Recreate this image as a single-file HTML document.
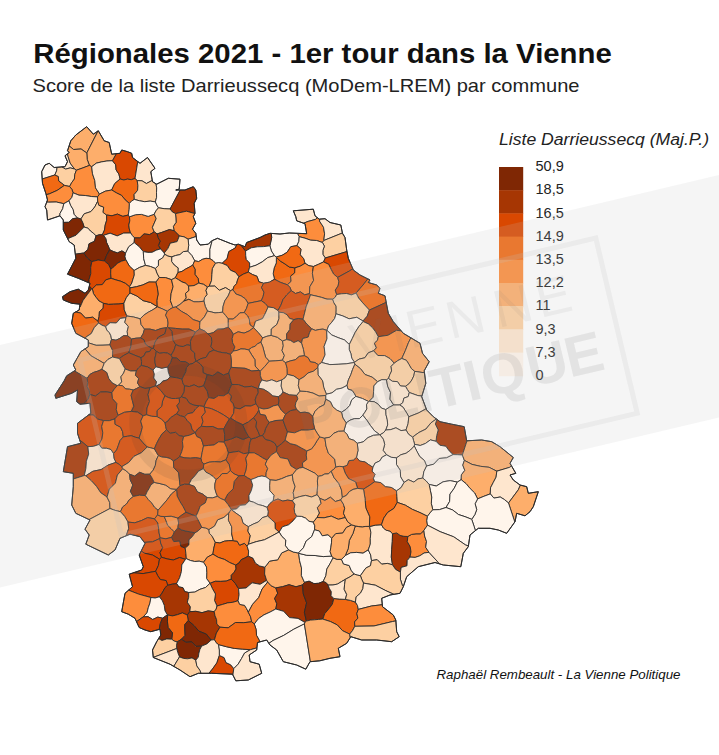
<!DOCTYPE html>
<html><head><meta charset="utf-8"><style>
html,body{margin:0;padding:0;background:#fff;}
body{width:719px;height:755px;overflow:hidden;position:relative;font-family:"Liberation Sans",sans-serif;}
svg{position:absolute;left:0;top:0;}
</style></head><body>
<svg width="719" height="755" viewBox="0 0 719 755">
<g font-family="Liberation Sans, sans-serif">
<text x="33.3" y="63.2" font-size="27" font-weight="bold" fill="#111" textLength="578.5" lengthAdjust="spacingAndGlyphs">Régionales 2021 - 1er tour dans la Vienne</text>
<text x="32.5" y="92" font-size="18.5" fill="#222" textLength="547" lengthAdjust="spacingAndGlyphs">Score de la liste Darrieussecq (MoDem-LREM) par commune</text>
<text x="499" y="145.2" font-size="16" font-style="italic" fill="#222" textLength="210" lengthAdjust="spacingAndGlyphs">Liste Darrieussecq (Maj.P.)</text>
<g font-size="14.5" fill="#222"><text x="535.5" y="171.2">50,9</text><text x="535.5" y="194.4">18,5</text><text x="535.5" y="217.6">16,5</text><text x="535.5" y="240.8">14,9</text><text x="535.5" y="264.0">13,5</text><text x="535.5" y="287.2">12,2</text><text x="535.5" y="310.4">11</text><text x="535.5" y="333.6">9,3</text><text x="535.5" y="356.8">7,3</text><text x="535.5" y="380.0">0</text></g>
<text x="436.5" y="679" font-size="13.2" font-style="italic" fill="#111" textLength="244" lengthAdjust="spacingAndGlyphs">Raphaël Rembeault - La Vienne Politique</text>
</g>
<rect x="499" y="167.0" width="24.2" height="23.6" fill="#7f2704"/><rect x="499" y="190.2" width="24.2" height="23.6" fill="#a63603"/><rect x="499" y="213.4" width="24.2" height="23.6" fill="#d94801"/><rect x="499" y="236.6" width="24.2" height="23.6" fill="#f16913"/><rect x="499" y="259.8" width="24.2" height="23.6" fill="#fd8d3c"/><rect x="499" y="283.0" width="24.2" height="23.6" fill="#fdae6b"/><rect x="499" y="306.2" width="24.2" height="23.6" fill="#fdd0a2"/><rect x="499" y="329.4" width="24.2" height="23.6" fill="#fee6ce"/><rect x="499" y="352.6" width="24.2" height="23.6" fill="#fff5eb"/>
<g stroke="#2a2a2a" stroke-width="0.9" stroke-linejoin="round">
<path d="M73.6,149.5L81.1,149.0L86.8,153.0L98.1,130.9L93.3,134.2L86.7,126.7L75.8,135.0L70.8,140.8L69.1,145.9Z" fill="#fdae6b"/>
<path d="M116.4,153.7L111.7,154.2L109.2,142.5L104.2,140.8L98.3,130.8L98.1,130.9L86.8,153.0L87.2,159.4L89.4,165.4L91.7,166.7L96.3,163.2L101.5,161.9L106.9,161.0L112.5,160.7Z" fill="#fdae6b"/>
<path d="M65.6,169.1L70.2,167.9L74.5,169.0L70.2,163.1L68.0,156.2L67.5,153.8L65.0,155.8L67.5,161.7L65.0,166.7L61.8,166.9Z" fill="#fee6ce"/>
<path d="M87.2,159.4L86.8,153.0L81.1,149.0L73.6,149.5L69.1,145.9L67.5,150.8L69.2,152.5L67.5,153.8L68.0,156.2L70.2,163.1L74.5,169.0L76.4,170.2L82.9,167.9L89.4,165.4Z" fill="#fdae6b"/>
<path d="M54.8,175.0L56.6,170.9L57.1,167.3L54.2,167.5L49.2,163.3L45.0,165.0L41.7,171.7L42.2,179.0Z" fill="#fff5eb"/>
<path d="M74.5,169.0L70.2,167.9L65.6,169.1L61.8,166.9L57.1,167.3L56.6,170.9L54.8,175.0L58.3,176.6L58.7,181.0L61.6,183.2L64.4,185.4L69.6,186.5L71.7,182.6L74.4,179.0L74.8,174.4L76.4,170.2Z" fill="#fdd0a2"/>
<path d="M49.3,193.9L57.2,190.4L64.4,185.4L61.6,183.2L58.7,181.0L58.3,176.6L54.8,175.0L42.2,179.0L42.5,183.3L45.8,193.3L46.2,194.7Z" fill="#f16913"/>
<path d="M99.5,194.1L95.5,187.8L94.8,180.6L92.5,173.8L91.7,166.7L89.4,165.4L82.9,167.9L76.4,170.2L74.8,174.4L74.4,179.0L71.7,182.6L69.6,186.5L71.9,189.4L73.1,192.8L79.0,195.2L85.2,195.5L91.3,196.5L97.5,196.9Z" fill="#fd8d3c"/>
<path d="M105.3,191.2L111.7,190.0L114.7,183.6L120.1,179.0L118.9,174.1L116.1,169.9L115.7,164.8L112.5,160.7L106.9,161.0L101.5,161.9L96.3,163.2L91.7,166.7L92.5,173.8L94.8,180.6L95.5,187.8L99.5,194.1Z" fill="#fee6ce"/>
<path d="M137.8,161.6L132.5,157.5L131.7,153.3L127.5,151.7L121.7,150.0L120.0,153.3L116.4,153.7L112.5,160.7L115.7,164.8L116.1,169.9L118.9,174.1L120.1,179.0L123.8,180.0L127.5,179.1L131.3,179.7L135.0,178.5Z" fill="#d94801"/>
<path d="M135.0,178.5L137.2,180.6L142.0,180.8L146.4,183.5L151.5,180.8L152.4,181.3L150.8,171.7L155.0,168.3L147.5,157.5L140.0,163.3L137.8,161.6Z" fill="#fee6ce"/>
<path d="M131.5,201.1L134.3,199.4L134.1,194.6L137.6,190.3L137.9,185.5L137.2,180.6L135.0,178.5L131.3,179.7L127.5,179.1L123.8,180.0L120.1,179.0L114.7,183.6L111.7,190.0L116.5,192.9L121.6,195.4L125.2,199.9L129.4,203.5Z" fill="#f16913"/>
<path d="M151.5,180.8L146.4,183.5L142.0,180.8L137.2,180.6L137.9,185.5L137.6,190.3L134.1,194.6L134.3,199.4L139.5,200.8L144.7,201.7L150.2,201.1L155.4,201.9L156.6,197.3L156.5,192.6L156.7,187.9L156.0,183.8L152.5,181.7L152.4,181.3Z" fill="#fdd0a2"/>
<path d="M71.9,197.3L73.1,192.8L71.9,189.4L69.6,186.5L64.4,185.4L57.2,190.4L49.3,193.9L46.2,194.7L47.5,200.0L46.7,202.1L48.4,202.2L56.2,202.0L63.8,203.7L69.0,200.8Z" fill="#fd8d3c"/>
<path d="M60.0,213.4L62.7,208.7L63.8,203.7L56.2,202.0L48.4,202.2L46.7,202.1L45.0,206.7L46.7,210.0L47.5,220.0L59.9,215.8Z" fill="#fee6ce"/>
<path d="M63.8,222.4L68.8,222.3L72.7,218.7L77.6,218.0L74.2,214.3L73.2,209.5L70.7,205.4L69.0,200.8L63.8,203.7L62.7,208.7L60.0,213.4L59.9,215.8L60.0,215.8L63.3,220.0L63.3,222.5Z" fill="#fff5eb"/>
<path d="M84.2,213.8L90.9,211.6L94.8,206.9L97.7,201.2L97.5,196.9L91.3,196.5L85.2,195.5L79.0,195.2L73.1,192.8L71.9,197.3L69.0,200.8L70.7,205.4L73.2,209.5L74.2,214.3L77.6,218.0L80.9,219.0Z" fill="#fee6ce"/>
<path d="M82.8,222.9L84.1,227.1L87.9,228.1L90.4,231.0L93.4,233.2L96.0,235.9L99.1,234.8L102.4,234.7L104.5,230.0L105.2,225.0L106.7,220.2L106.6,215.0L103.1,212.4L103.7,207.1L98.9,205.3L97.7,201.2L94.8,206.9L90.9,211.6L84.2,213.8L80.9,219.0Z" fill="#fdd0a2"/>
<path d="M98.9,205.3L103.7,207.1L103.1,212.4L106.6,215.0L112.0,215.8L117.4,214.1L122.9,216.4L128.3,215.0L129.2,209.3L129.4,203.5L125.2,199.9L121.6,195.4L116.5,192.9L111.7,190.0L105.3,191.2L99.5,194.1L97.5,196.9L97.7,201.2Z" fill="#fd8d3c"/>
<path d="M106.7,220.2L105.2,225.0L104.5,230.0L102.4,234.7L103.5,235.4L110.1,233.2L117.2,235.9L123.7,233.1L130.6,233.0L129.3,229.0L128.8,225.0L129.8,220.8L129.5,216.8L128.3,215.0L122.9,216.4L117.4,214.1L112.0,215.8L106.6,215.0Z" fill="#d94801"/>
<path d="M129.8,220.8L128.8,225.0L129.3,229.0L130.6,233.0L132.4,235.6L134.5,237.9L139.9,237.9L144.0,233.9L149.6,234.6L154.2,231.9L152.4,227.4L154.3,223.0L156.2,218.6L154.2,214.2L148.2,216.4L141.7,214.4L135.5,214.7L129.5,216.8Z" fill="#fd8d3c"/>
<path d="M129.2,209.3L128.3,215.0L129.5,216.8L135.5,214.7L141.7,214.4L148.2,216.4L154.2,214.2L156.0,210.8L158.5,207.8L156.8,205.0L155.4,201.9L150.2,201.1L144.7,201.7L139.5,200.8L134.3,199.4L131.5,201.1L129.4,203.5Z" fill="#fff5eb"/>
<path d="M77.6,218.0L72.7,218.7L68.8,222.3L63.8,222.4L63.3,222.5L63.3,230.0L67.7,238.7L76.0,235.2L84.1,227.1L82.8,222.9L80.9,219.0Z" fill="#7f2704"/>
<path d="M156.7,187.9L156.5,192.6L156.6,197.3L155.4,201.9L156.8,205.0L158.5,207.8L164.2,208.7L170.1,209.0L179.2,192.0L180.2,190.0L175.8,190.0L179.2,189.2L180.0,179.2L168.3,178.3L160.0,182.5L156.7,184.2L156.0,183.8Z" fill="#fff5eb"/>
<path d="M179.2,192.0L170.1,209.0L172.3,211.9L175.5,213.6L186.5,211.2L194.9,213.6L195.0,213.3L194.2,203.3L196.7,198.3L195.8,190.0L193.3,186.7L185.0,190.0L180.2,190.0Z" fill="#a63603"/>
<path d="M195.6,236.7L196.1,235.8L195.8,233.3L192.5,229.2L195.8,223.3L193.3,216.7L194.9,213.6L186.5,211.2L175.5,213.6L175.9,218.0L176.1,222.3L173.4,226.3L174.0,230.7L176.8,233.2L179.3,236.0L184.0,236.8L188.1,239.2Z" fill="#fd8d3c"/>
<path d="M156.2,218.6L154.3,223.0L152.4,227.4L154.2,231.9L157.1,233.9L161.2,232.6L165.3,231.1L169.4,229.6L174.0,230.7L173.4,226.3L176.1,222.3L175.9,218.0L175.5,213.6L172.3,211.9L170.1,209.0L164.2,208.7L158.5,207.8L156.0,210.8L154.2,214.2Z" fill="#fdd0a2"/>
<path d="M308.2,221.4L315.5,219.4L317.3,217.7L315.0,215.8L313.3,209.2L293.3,210.8L295.8,216.7L296.7,220.8L303.6,223.2Z" fill="#fee6ce"/>
<path d="M299.2,236.7L305.0,238.2L310.6,240.2L316.7,240.5L322.4,242.5L323.8,240.5L324.6,233.8L323.5,227.2L319.5,221.1L319.9,219.1L319.2,219.2L317.3,217.7L315.5,219.4L308.2,221.4L303.6,223.2L305.0,223.7L306.7,233.7L297.3,233.3Z" fill="#fd8d3c"/>
<path d="M319.5,221.1L323.5,227.2L324.6,233.8L323.8,240.5L342.4,233.0L340.8,225.0L330.0,222.5L325.0,218.7L319.9,219.1Z" fill="#fee6ce"/>
<path d="M323.8,240.5L322.4,242.5L324.4,246.1L322.9,250.4L322.9,254.4L325.3,258.0L344.2,252.4L347.0,251.5L346.7,250.0L345.0,237.5L342.5,233.3L342.4,233.0Z" fill="#fdd0a2"/>
<path d="M282.1,255.3L287.1,252.3L290.8,246.7L296.9,245.6L298.9,241.3L299.2,236.7L297.3,233.3L289.2,233.0L280.0,234.0L271.2,233.4L271.7,237.5L269.9,245.8L271.4,251.0L274.4,255.7L276.3,257.0Z" fill="#fff5eb"/>
<path d="M318.5,264.3L323.6,261.9L325.3,258.0L322.9,254.4L322.9,250.4L324.4,246.1L322.4,242.5L316.7,240.5L310.6,240.2L305.0,238.2L299.2,236.7L298.9,241.3L296.9,245.6L301.0,249.1L300.2,254.8L303.6,258.6L305.0,263.3L308.9,265.7L313.4,266.5Z" fill="#fee6ce"/>
<path d="M328.7,264.3L331.1,269.3L333.6,274.1L337.7,277.4L349.6,270.9L352.8,268.7L348.3,258.3L347.0,251.5L344.2,252.4L325.3,258.0L323.6,261.9Z" fill="#d94801"/>
<path d="M291.1,281.4L290.6,276.1L294.7,272.9L294.9,267.9L289.3,267.0L284.9,263.9L280.4,261.1L276.4,257.4L276.3,262.9L274.1,268.2L273.2,273.7L274.5,279.3L280.8,282.5L287.4,284.8Z" fill="#f16913"/>
<path d="M300.2,266.2L305.0,263.3L303.6,258.6L300.2,254.8L301.0,249.1L296.9,245.6L290.8,246.7L287.1,252.3L282.1,255.3L276.3,257.0L276.4,257.4L280.4,261.1L284.9,263.9L289.3,267.0L294.9,267.9Z" fill="#f16913"/>
<path d="M308.9,265.7L305.0,263.3L300.2,266.2L294.9,267.9L294.7,272.9L290.6,276.1L291.1,281.4L287.4,284.8L289.9,287.3L291.2,290.6L295.5,293.5L300.4,291.9L304.6,294.8L309.5,293.7L309.8,286.8L313.6,280.4L312.4,273.3L313.4,266.5Z" fill="#fd8d3c"/>
<path d="M312.4,273.3L313.6,280.4L309.8,286.8L309.5,293.7L310.5,294.8L316.0,296.0L321.6,297.4L327.0,299.2L332.7,299.2L335.2,297.3L336.7,294.5L335.3,290.1L338.1,286.0L338.9,281.7L337.7,277.4L333.6,274.1L331.1,269.3L328.7,264.3L323.6,261.9L318.5,264.3L313.4,266.5Z" fill="#fd8d3c"/>
<path d="M338.9,281.7L338.1,286.0L335.3,290.1L336.7,294.5L341.5,293.8L346.4,293.5L351.4,294.9L356.1,293.1L364.4,283.4L367.8,278.9L360.0,275.0L353.3,270.0L352.8,268.7L349.6,270.9L337.7,277.4Z" fill="#d94801"/>
<path d="M364.4,283.4L356.1,293.1L358.6,298.0L362.1,302.1L365.7,306.1L369.4,310.1L386.2,302.4L385.0,295.8L378.3,293.3L380.0,288.3L376.7,285.0L368.3,282.5L370.0,280.0L367.8,278.9Z" fill="#f16913"/>
<path d="M188.7,245.3L187.8,251.2L191.9,255.6L194.7,260.8L198.7,261.6L202.3,259.4L206.0,258.3L209.9,258.7L209.9,249.4L212.2,240.6L211.7,240.8L208.3,244.2L200.0,245.0L196.7,240.0L196.1,235.8L195.6,236.7L188.1,239.2Z" fill="#fff5eb"/>
<path d="M167.8,248.6L170.3,243.2L177.1,241.6L179.3,236.0L176.8,233.2L174.0,230.7L169.4,229.6L165.3,231.1L161.2,232.6L157.1,233.9L158.0,237.6L160.1,241.1L158.4,245.5L160.5,248.9L164.2,253.0Z" fill="#a63603"/>
<path d="M164.6,254.2L167.9,256.1L171.7,256.9L175.7,255.5L180.0,254.6L183.4,251.6L187.8,251.2L188.7,245.3L188.1,239.2L184.0,236.8L179.3,236.0L177.1,241.6L170.3,243.2L167.8,248.6L164.2,253.0Z" fill="#fdd0a2"/>
<path d="M209.9,249.4L209.9,258.7L213.0,260.6L215.5,263.3L218.8,262.6L222.1,263.3L227.1,258.7L228.8,251.6L235.2,248.0L236.9,244.5L235.0,245.0L230.0,243.3L217.5,238.3L212.2,240.6Z" fill="#fff5eb"/>
<path d="M249.6,267.3L249.7,263.0L246.3,259.5L245.7,255.3L245.6,251.0L241.9,246.4L241.0,245.2L238.3,244.2L236.9,244.5L235.2,248.0L228.8,251.6L227.1,258.7L222.1,263.3L227.2,265.5L230.4,270.2L235.5,272.4L238.9,276.8L243.4,274.1L248.3,272.1Z" fill="#d94801"/>
<path d="M241.9,246.4L245.6,251.0L251.3,247.8L257.4,246.8L263.7,246.6L269.9,245.8L271.7,237.5L271.2,233.4L270.0,233.3L265.0,235.0L260.0,237.5L246.7,242.5L245.0,246.7L241.0,245.2Z" fill="#a63603"/>
<path d="M256.1,265.2L262.2,261.9L267.7,257.6L274.4,255.7L271.4,251.0L269.9,245.8L263.7,246.6L257.4,246.8L251.3,247.8L245.6,251.0L245.7,255.3L246.3,259.5L249.7,263.0L249.6,267.3Z" fill="#fff5eb"/>
<path d="M273.2,273.7L274.1,268.2L276.3,262.9L276.4,257.4L276.3,257.0L274.4,255.7L267.7,257.6L262.2,261.9L256.1,265.2L249.6,267.3L248.3,272.1L252.4,274.5L257.0,276.3L258.9,281.8L263.6,283.3L269.4,282.2L274.5,279.3Z" fill="#fee6ce"/>
<path d="M171.6,261.5L174.2,265.0L178.1,267.9L177.9,272.5L182.0,271.4L185.5,269.1L189.2,267.2L192.8,265.1L194.7,260.8L191.9,255.6L187.8,251.2L183.4,251.6L180.0,254.6L175.7,255.5L171.7,256.9Z" fill="#fee6ce"/>
<path d="M177.9,272.5L178.1,267.9L174.2,265.0L171.6,261.5L171.7,256.9L167.9,256.1L164.6,254.2L162.5,257.9L158.4,260.3L158.4,265.4L155.3,268.5L156.9,273.2L159.2,277.5L165.5,277.6L171.5,279.7L175.3,277.8Z" fill="#fdd0a2"/>
<path d="M209.2,286.2L211.5,280.7L211.9,274.6L212.4,268.6L215.5,263.3L213.0,260.6L209.9,258.7L206.0,258.3L202.3,259.4L198.7,261.6L194.7,260.8L192.8,265.1L195.1,269.3L194.9,274.4L198.1,278.4L198.8,283.1L203.5,284.3L207.5,287.0Z" fill="#fd8d3c"/>
<path d="M178.7,279.8L181.9,281.9L185.7,283.2L188.5,286.1L194.0,285.6L198.8,283.1L198.1,278.4L194.9,274.4L195.1,269.3L192.8,265.1L189.2,267.2L185.5,269.1L182.0,271.4L177.9,272.5L175.3,277.8Z" fill="#f16913"/>
<path d="M214.8,286.1L219.4,290.3L225.5,287.6L230.4,290.7L232.9,289.7L234.1,286.3L236.6,283.6L237.5,280.1L238.9,276.8L235.5,272.4L230.4,270.2L227.2,265.5L222.1,263.3L218.8,262.6L215.5,263.3L212.4,268.6L211.9,274.6L211.5,280.7L209.2,286.2Z" fill="#fdd0a2"/>
<path d="M254.7,302.0L261.3,300.7L263.1,296.6L264.0,292.2L261.5,287.5L263.6,283.3L258.9,281.8L257.0,276.3L252.4,274.5L248.3,272.1L243.4,274.1L238.9,276.8L237.5,280.1L236.6,283.6L234.1,286.3L232.9,289.7L235.9,294.0L241.1,295.9L245.3,298.8L248.1,303.4Z" fill="#f16913"/>
<path d="M170.4,300.6L171.1,293.6L173.1,286.6L171.5,279.7L165.5,277.6L159.2,277.5L155.8,282.1L157.4,288.2L158.1,294.2L156.8,300.4L157.0,306.4L157.3,306.8L162.4,308.9L167.3,311.3L170.0,309.1L173.0,307.5Z" fill="#fd8d3c"/>
<path d="M175.8,307.0L180.0,304.4L183.8,301.2L186.3,297.9L185.5,293.4L189.0,290.4L188.5,286.1L185.7,283.2L181.9,281.9L178.7,279.8L175.3,277.8L171.5,279.7L173.1,286.6L171.1,293.6L170.4,300.6L173.0,307.5Z" fill="#fdae6b"/>
<path d="M204.6,297.6L207.2,294.5L206.0,290.4L207.5,287.0L203.5,284.3L198.8,283.1L194.0,285.6L188.5,286.1L189.0,290.4L185.5,293.4L186.3,297.9L183.8,301.2L188.8,299.3L193.9,301.8L198.9,301.8L204.0,301.2Z" fill="#fdae6b"/>
<path d="M223.1,306.3L224.8,300.8L228.1,296.0L230.4,290.7L225.5,287.6L219.4,290.3L214.8,286.1L209.2,286.2L207.5,287.0L206.0,290.4L207.2,294.5L204.6,297.6L204.0,301.2L205.2,306.3L207.5,311.1L211.2,311.9L215.0,312.9L218.8,312.6L222.6,312.2Z" fill="#fdd0a2"/>
<path d="M205.2,306.3L204.0,301.2L198.9,301.8L193.9,301.8L188.8,299.3L183.8,301.2L180.0,304.4L175.8,307.0L181.5,311.4L187.7,314.8L193.1,319.6L200.0,321.8L204.4,316.9L207.5,311.1Z" fill="#fd8d3c"/>
<path d="M233.0,319.1L236.5,316.4L239.8,312.9L244.2,312.6L246.6,308.2L248.1,303.4L245.3,298.8L241.1,295.9L235.9,294.0L232.9,289.7L230.4,290.7L228.1,296.0L224.8,300.8L223.1,306.3L222.6,312.2L225.6,315.5L228.3,319.0Z" fill="#fd8d3c"/>
<path d="M273.4,307.7L278.0,310.5L280.9,305.2L283.0,299.5L286.8,294.8L291.2,290.6L289.9,287.3L287.4,284.8L280.8,282.5L274.5,279.3L269.4,282.2L263.6,283.3L261.5,287.5L264.0,292.2L263.1,296.6L261.3,300.7L265.1,303.4L268.1,307.0Z" fill="#d94801"/>
<path d="M247.6,315.8L249.4,319.8L249.9,324.7L253.6,327.6L255.5,321.2L262.6,318.6L265.5,312.9L268.1,307.0L265.1,303.4L261.3,300.7L254.7,302.0L248.1,303.4L246.6,308.2L244.2,312.6Z" fill="#f16913"/>
<path d="M76.0,235.2L67.7,238.7L69.2,241.7L74.2,245.0L75.3,254.2L83.8,253.0L87.9,249.5L89.0,243.8L94.5,241.3L96.0,235.9L93.4,233.2L90.4,231.0L87.9,228.1L84.1,227.1Z" fill="#fee6ce"/>
<path d="M105.8,238.7L106.6,242.6L108.3,246.1L109.7,249.8L113.5,251.6L117.4,252.9L121.9,250.9L125.6,253.1L128.7,246.8L134.2,242.6L134.5,237.9L132.4,235.6L130.6,233.0L123.7,233.1L117.2,235.9L110.1,233.2L103.5,235.4Z" fill="#fee6ce"/>
<path d="M134.2,242.6L139.2,246.7L143.3,251.6L147.8,252.4L152.2,252.3L156.3,250.2L160.5,248.9L158.4,245.5L160.1,241.1L158.0,237.6L157.1,233.9L154.2,231.9L149.6,234.6L144.0,233.9L139.9,237.9L134.5,237.9Z" fill="#a63603"/>
<path d="M89.1,279.4L90.8,273.6L90.7,267.5L91.9,261.6L87.2,257.9L83.8,253.0L75.3,254.2L75.8,258.3L67.5,274.2L78.3,278.3L88.9,282.8Z" fill="#7f2704"/>
<path d="M94.5,241.3L89.0,243.8L87.9,249.5L83.8,253.0L87.2,257.9L91.9,261.6L98.1,260.0L104.4,261.0L106.7,255.2L109.7,249.8L108.3,246.1L106.6,242.6L105.8,238.7L103.5,235.4L102.4,234.7L99.1,234.8L96.0,235.9Z" fill="#7f2704"/>
<path d="M108.5,264.4L110.8,269.2L114.3,266.5L117.5,263.2L121.5,261.2L125.9,259.9L125.0,256.6L125.6,253.1L121.9,250.9L117.4,252.9L113.5,251.6L109.7,249.8L106.7,255.2L104.4,261.0Z" fill="#7f2704"/>
<path d="M125.0,256.6L125.9,259.9L129.2,265.9L134.1,270.5L139.6,267.4L145.5,265.4L143.7,258.6L143.3,251.6L139.2,246.7L134.2,242.6L128.7,246.8L125.6,253.1Z" fill="#fff5eb"/>
<path d="M160.5,248.9L156.3,250.2L152.2,252.3L147.8,252.4L143.3,251.6L143.7,258.6L145.5,265.4L150.5,266.5L155.3,268.5L158.4,265.4L158.4,260.3L162.5,257.9L164.6,254.2L164.2,253.0Z" fill="#fff5eb"/>
<path d="M90.7,267.5L90.8,273.6L89.1,279.4L88.9,282.8L90.0,283.3L89.3,286.1L91.7,288.7L92.3,288.9L96.3,285.0L102.3,284.6L105.8,279.9L111.1,278.3L110.7,273.8L110.8,269.2L108.5,264.4L104.4,261.0L98.1,260.0L91.9,261.6Z" fill="#d94801"/>
<path d="M115.9,279.9L120.9,281.3L125.5,283.4L129.5,286.8L131.8,283.0L133.0,279.0L134.3,275.0L134.1,270.5L129.2,265.9L125.9,259.9L121.5,261.2L117.5,263.2L114.3,266.5L110.8,269.2L110.7,273.8L111.1,278.3Z" fill="#f16913"/>
<path d="M150.5,266.5L145.5,265.4L139.6,267.4L134.1,270.5L134.3,275.0L133.0,279.0L131.8,283.0L129.5,286.8L130.0,287.9L136.5,286.7L142.9,284.9L149.0,282.0L155.8,282.1L159.2,277.5L156.9,273.2L155.3,268.5Z" fill="#fdd0a2"/>
<path d="M126.3,297.7L130.0,292.9L130.0,287.9L129.5,286.8L125.5,283.4L120.9,281.3L115.9,279.9L111.1,278.3L105.8,279.9L102.3,284.6L96.3,285.0L92.3,288.9L93.5,293.7L96.1,297.4L99.0,301.0L103.4,303.3L108.5,304.4L113.6,304.2L118.8,304.0L123.9,303.3Z" fill="#f16913"/>
<path d="M89.3,286.1L88.3,290.0L85.0,293.3L78.3,289.2L70.0,291.7L62.5,296.7L63.3,300.0L71.7,303.3L80.0,304.2L79.5,307.6L80.1,307.1L83.1,300.3L87.4,294.5L91.7,288.7Z" fill="#7f2704"/>
<path d="M91.7,288.7L87.4,294.5L83.1,300.3L80.1,307.1L79.5,307.6L79.2,310.0L75.6,312.0L80.7,313.0L85.5,318.1L92.7,317.2L97.9,321.2L99.1,316.6L99.4,311.9L103.2,308.1L103.4,303.3L99.0,301.0L96.1,297.4L93.5,293.7L92.3,288.9Z" fill="#fdae6b"/>
<path d="M124.3,309.9L123.9,303.3L118.8,304.0L113.6,304.2L108.5,304.4L103.4,303.3L103.2,308.1L99.4,311.9L99.1,316.6L97.9,321.2L98.6,323.0L102.0,325.2L105.7,326.6L110.1,322.7L116.3,323.0L120.3,318.4L126.0,317.6L126.9,316.0Z" fill="#d94801"/>
<path d="M150.5,302.5L143.0,300.6L136.9,296.0L130.0,292.9L126.3,297.7L123.9,303.3L124.3,309.9L126.9,316.0L133.6,317.0L140.2,318.8L143.9,315.1L148.3,312.2L153.0,309.7L157.3,306.8L157.0,306.4Z" fill="#fdd0a2"/>
<path d="M156.8,300.4L158.1,294.2L157.4,288.2L155.8,282.1L149.0,282.0L142.9,284.9L136.5,286.7L130.0,287.9L130.0,292.9L136.9,296.0L143.0,300.6L150.5,302.5L157.0,306.4Z" fill="#f16913"/>
<path d="M85.7,337.3L91.3,333.5L94.2,327.7L98.6,323.0L97.9,321.2L92.7,317.2L85.5,318.1L80.7,313.0L75.6,312.0L73.3,313.3L71.7,323.3L75.8,333.3L85.2,338.3Z" fill="#f16913"/>
<path d="M89.5,343.2L96.1,345.3L103.0,345.2L109.8,344.9L111.5,339.4L110.9,335.8L109.4,332.7L106.8,330.0L105.7,326.6L102.0,325.2L98.6,323.0L94.2,327.7L91.3,333.5L85.7,337.3L85.2,338.3L88.3,340.0L88.3,343.2Z" fill="#fdd0a2"/>
<path d="M127.2,331.3L128.4,326.6L124.8,322.3L126.0,317.6L120.3,318.4L116.3,323.0L110.1,322.7L105.7,326.6L106.8,330.0L109.4,332.7L110.9,335.8L111.5,339.4L116.0,340.2L119.8,338.4L123.5,335.7L127.7,335.8Z" fill="#fee6ce"/>
<path d="M143.1,333.8L144.5,329.1L141.1,324.5L140.2,318.8L133.6,317.0L126.9,316.0L126.0,317.6L124.8,322.3L128.4,326.6L127.2,331.3L127.7,335.8L131.5,339.0L136.0,338.2L140.6,337.9Z" fill="#fdae6b"/>
<path d="M167.6,326.9L168.1,323.0L167.5,319.1L165.6,315.2L167.3,311.3L162.4,308.9L157.3,306.8L153.0,309.7L148.3,312.2L143.9,315.1L140.2,318.8L141.1,324.5L144.5,329.1L150.0,329.1L155.6,330.5L161.0,328.5L166.5,327.7Z" fill="#fd8d3c"/>
<path d="M155.0,342.2L158.4,337.1L164.8,333.9L166.5,327.7L161.0,328.5L155.6,330.5L150.0,329.1L144.5,329.1L143.1,333.8L140.6,337.9L144.0,339.9L145.3,344.1L148.3,346.4L151.7,348.4L153.4,348.4Z" fill="#a63603"/>
<path d="M123.9,355.3L128.8,352.7L131.0,346.0L131.5,339.0L127.7,335.8L123.5,335.7L119.8,338.4L116.0,340.2L111.5,339.4L109.8,344.9L112.6,350.6L112.5,357.0L116.0,357.8L119.4,358.5Z" fill="#a63603"/>
<path d="M253.6,327.7L258.3,332.7L262.7,337.9L266.9,336.3L271.2,335.4L271.3,329.0L276.9,324.4L279.0,318.6L278.9,312.2L278.0,310.5L273.4,307.7L268.1,307.0L265.5,312.9L262.6,318.6L255.5,321.2L253.6,327.6Z" fill="#fdd0a2"/>
<path d="M193.1,319.6L187.7,314.8L181.5,311.4L175.8,307.0L173.0,307.5L170.0,309.1L167.3,311.3L165.6,315.2L167.5,319.1L168.1,323.0L167.6,326.9L168.8,327.9L175.5,328.4L182.2,329.1L189.1,329.1L195.5,332.0L199.7,328.9L199.7,325.3L200.0,321.8Z" fill="#f16913"/>
<path d="M228.3,323.1L228.3,319.0L225.6,315.5L222.6,312.2L218.8,312.6L215.0,312.9L211.2,311.9L207.5,311.1L204.4,316.9L200.0,321.8L199.7,325.3L199.7,328.9L204.3,330.8L208.0,334.0L213.2,332.7L217.7,329.2L223.2,328.9L228.3,327.2Z" fill="#fdae6b"/>
<path d="M231.1,330.6L233.3,334.4L238.1,331.8L244.1,333.1L249.1,331.0L253.6,327.7L253.6,327.6L249.9,324.7L249.4,319.8L247.6,315.8L244.2,312.6L239.8,312.9L236.5,316.4L233.0,319.1L228.3,319.0L228.3,323.1L228.3,327.2Z" fill="#fd8d3c"/>
<path d="M156.3,351.3L159.7,353.3L163.9,352.6L167.7,353.2L171.1,355.3L174.0,350.2L175.8,344.6L173.3,340.7L172.5,336.2L172.1,331.4L168.8,327.9L167.6,326.9L166.5,327.7L164.8,333.9L158.4,337.1L155.0,342.2L153.4,348.4Z" fill="#a63603"/>
<path d="M190.4,341.6L191.7,338.3L193.9,335.2L195.5,332.0L189.1,329.1L182.2,329.1L175.5,328.4L168.8,327.9L172.1,331.4L172.5,336.2L173.3,340.7L175.8,344.6L179.5,346.2L183.2,346.5L187.0,344.8L190.7,345.5Z" fill="#a63603"/>
<path d="M194.8,357.2L194.7,352.9L191.0,349.8L190.7,345.5L187.0,344.8L183.2,346.5L179.5,346.2L175.8,344.6L174.0,350.2L171.1,355.3L172.2,357.6L177.0,358.2L180.6,361.5L185.5,361.7L189.4,364.4L193.0,363.4L196.0,361.2Z" fill="#a63603"/>
<path d="M204.3,330.8L199.7,328.9L195.5,332.0L193.9,335.2L191.7,338.3L190.4,341.6L190.7,345.5L191.0,349.8L194.7,352.9L194.8,357.2L196.0,361.2L196.3,361.3L200.9,358.7L206.2,357.3L209.1,352.2L213.9,350.1L211.0,346.6L211.9,341.7L211.4,337.3L208.0,334.0Z" fill="#a63603"/>
<path d="M234.9,346.9L232.6,342.7L232.2,338.6L233.3,334.4L231.1,330.6L228.3,327.2L223.2,328.9L217.7,329.2L213.2,332.7L208.0,334.0L211.4,337.3L211.9,341.7L211.0,346.6L213.9,350.1L217.9,351.6L222.1,352.6L226.4,353.0L230.5,354.5L233.3,351.0Z" fill="#a63603"/>
<path d="M237.2,350.4L240.9,348.9L244.8,349.1L248.7,349.9L251.5,347.6L255.0,346.3L257.6,343.8L260.9,342.2L262.7,337.9L258.3,332.7L253.6,327.7L249.1,331.0L244.1,333.1L238.1,331.8L233.3,334.4L232.2,338.6L232.6,342.7L234.9,346.9L233.3,351.0Z" fill="#f16913"/>
<path d="M284.4,355.4L282.0,350.6L283.3,345.8L282.5,341.0L277.3,337.2L271.2,335.4L266.9,336.3L262.7,337.9L260.9,342.2L262.9,347.0L264.2,352.1L265.6,357.2L269.3,361.2L275.9,360.8L282.5,360.2Z" fill="#fdae6b"/>
<path d="M265.6,357.2L264.2,352.1L262.9,347.0L260.9,342.2L257.6,343.8L255.0,346.3L251.5,347.6L248.7,349.9L251.7,354.9L254.9,359.7L255.1,366.0L259.0,370.4L260.3,371.2L264.9,366.3L269.3,361.2Z" fill="#fd8d3c"/>
<path d="M230.5,354.5L231.4,360.9L231.1,367.3L238.1,367.9L245.1,368.3L251.8,371.0L259.0,370.4L255.1,366.0L254.9,359.7L251.7,354.9L248.7,349.9L244.8,349.1L240.9,348.9L237.2,350.4L233.3,351.0Z" fill="#fd8d3c"/>
<path d="M229.7,370.1L231.1,367.3L231.4,360.9L230.5,354.5L226.4,353.0L222.1,352.6L217.9,351.6L213.9,350.1L209.1,352.2L206.2,357.3L200.9,358.7L196.3,361.3L200.1,363.8L202.8,367.2L203.0,372.6L207.3,374.7L212.8,375.8L217.9,372.0L223.5,375.1L228.8,373.0Z" fill="#a63603"/>
<path d="M176.2,377.7L182.1,379.1L183.9,375.4L185.8,371.8L186.5,367.6L189.4,364.4L185.5,361.7L180.6,361.5L177.0,358.2L172.2,357.6L170.5,362.6L167.6,367.0L168.3,372.1L170.1,376.9Z" fill="#7f2704"/>
<path d="M168.3,372.1L167.6,367.0L161.7,368.2L155.9,366.6L152.9,370.1L154.1,374.0L153.6,378.1L156.4,381.8L155.3,386.0L156.1,386.2L159.9,384.2L162.8,381.1L167.1,380.0L170.1,376.9Z" fill="#fff5eb"/>
<path d="M181.4,396.9L184.2,391.8L184.5,385.8L182.7,382.7L182.1,379.1L176.2,377.7L170.1,376.9L167.1,380.0L162.8,381.1L159.9,384.2L156.1,386.2L160.9,390.6L164.8,395.8L168.2,397.5L171.8,398.5L175.6,398.5L179.3,398.2Z" fill="#a63603"/>
<path d="M203.0,372.6L202.8,367.2L200.1,363.8L196.3,361.3L196.0,361.2L193.0,363.4L189.4,364.4L186.5,367.6L185.8,371.8L183.9,375.4L182.1,379.1L182.7,382.7L184.5,385.8L189.3,386.6L194.1,384.8L198.8,387.2L203.6,385.8L205.6,380.3L207.3,374.7Z" fill="#a63603"/>
<path d="M229.8,388.5L231.8,384.5L230.3,378.8L228.8,373.0L223.5,375.1L217.9,372.0L212.8,375.8L207.3,374.7L205.6,380.3L203.6,385.8L207.2,391.2L208.5,397.6L214.0,398.5L218.5,395.6L223.8,395.8L228.4,392.8Z" fill="#7f2704"/>
<path d="M260.4,375.7L260.3,371.2L259.0,370.4L251.8,371.0L245.1,368.3L238.1,367.9L231.1,367.3L229.7,370.1L228.8,373.0L230.3,378.8L231.8,384.5L238.5,384.6L244.8,387.0L251.6,386.3L257.9,388.8L258.5,388.2L259.6,383.9L261.9,380.0Z" fill="#a63603"/>
<path d="M285.1,377.8L287.3,374.4L287.2,368.4L285.6,362.6L282.5,360.2L275.9,360.8L269.3,361.2L264.9,366.3L260.3,371.2L260.4,375.7L261.9,380.0L266.8,381.3L271.8,379.8L276.7,381.8L281.7,380.0Z" fill="#fd8d3c"/>
<path d="M281.2,386.1L281.7,380.0L276.7,381.8L271.8,379.8L266.8,381.3L261.9,380.0L259.6,383.9L258.5,388.2L263.8,389.4L268.5,392.3L272.8,396.0L278.3,396.7L281.2,394.8L283.0,392.0Z" fill="#fee6ce"/>
<path d="M204.0,406.5L206.0,401.9L208.5,397.6L207.2,391.2L203.6,385.8L198.8,387.2L194.1,384.8L189.3,386.6L184.5,385.8L184.2,391.8L181.4,396.9L186.2,398.4L189.3,403.2L193.9,405.2L199.2,405.8Z" fill="#a63603"/>
<path d="M255.2,399.9L256.4,396.3L258.3,392.7L257.9,388.8L251.6,386.3L244.8,387.0L238.5,384.6L231.8,384.5L229.8,388.5L228.4,392.8L231.3,396.0L230.4,400.6L233.3,403.9L234.2,407.8L240.0,408.9L245.1,405.9L250.8,406.1L256.0,403.8Z" fill="#a63603"/>
<path d="M168.1,420.9L170.4,417.9L173.4,415.8L176.5,413.8L179.1,410.2L176.9,405.8L179.5,402.3L179.3,398.2L175.6,398.5L171.8,398.5L168.2,397.5L164.8,395.8L162.6,400.9L161.6,406.5L156.9,410.7L157.0,416.6L161.5,419.2L165.1,423.0Z" fill="#d94801"/>
<path d="M180.3,415.8L184.5,416.8L187.9,413.7L192.9,412.7L195.7,408.8L199.2,405.8L193.9,405.2L189.3,403.2L186.2,398.4L181.4,396.9L179.3,398.2L179.5,402.3L176.9,405.8L179.1,410.2L176.5,413.8Z" fill="#a63603"/>
<path d="M230.7,418.2L233.6,413.4L234.2,407.8L233.3,403.9L230.4,400.6L231.3,396.0L228.4,392.8L223.8,395.8L218.5,395.6L214.0,398.5L208.5,397.6L206.0,401.9L204.0,406.5L204.2,407.1L211.2,408.6L217.5,411.5L223.6,414.9L229.4,418.9Z" fill="#d94801"/>
<path d="M263.7,409.0L268.7,408.3L273.4,405.9L278.3,404.8L279.0,400.7L278.3,396.7L272.8,396.0L268.5,392.3L263.8,389.4L258.5,388.2L257.9,388.8L258.3,392.7L256.4,396.3L255.2,399.9L256.0,403.8L258.4,407.6Z" fill="#a63603"/>
<path d="M284.2,417.1L285.7,414.2L281.3,410.1L278.3,404.8L273.4,405.9L268.7,408.3L263.7,409.0L258.4,407.6L258.8,410.3L260.2,414.4L265.3,415.3L266.8,419.2L269.2,422.4L276.0,420.5L283.0,420.1Z" fill="#fd8d3c"/>
<path d="M258.4,407.6L256.0,403.8L250.8,406.1L245.1,405.9L240.0,408.9L234.2,407.8L233.6,413.4L230.7,418.2L236.5,421.8L242.8,424.8L248.6,421.9L253.6,417.6L256.5,414.2L258.8,410.3Z" fill="#d94801"/>
<path d="M298.4,318.5L303.0,319.3L304.6,313.1L306.1,306.9L308.4,300.8L310.5,294.8L309.5,293.7L304.6,294.8L300.4,291.9L295.5,293.5L291.2,290.6L286.8,294.8L283.0,299.5L280.9,305.2L278.0,310.5L278.9,312.2L283.3,312.7L287.0,314.7L289.7,318.5L293.9,319.6Z" fill="#d94801"/>
<path d="M315.3,330.4L319.2,329.5L323.0,329.1L326.7,330.4L326.9,330.3L328.6,325.8L331.8,322.2L334.7,318.4L336.0,313.8L336.2,309.9L336.1,306.1L333.9,302.8L332.7,299.2L327.0,299.2L321.6,297.4L316.0,296.0L310.5,294.8L308.4,300.8L306.1,306.9L304.6,313.1L303.0,319.3L307.0,324.4L311.7,328.8Z" fill="#fdae6b"/>
<path d="M333.9,302.8L336.1,306.1L336.2,309.9L336.0,313.8L342.7,315.9L349.1,318.8L356.8,317.3L363.0,321.0L367.2,316.2L369.4,310.1L365.7,306.1L362.1,302.1L358.6,298.0L356.1,293.1L351.4,294.9L346.4,293.5L341.5,293.8L336.7,294.5L335.2,297.3L332.7,299.2Z" fill="#fdd0a2"/>
<path d="M368.3,323.9L372.3,327.5L375.6,331.8L378.3,336.7L387.9,335.3L396.6,330.3L401.2,330.9L393.3,321.7L388.3,313.3L386.7,305.0L386.2,302.4L369.4,310.1L367.2,316.2L363.0,321.0L363.1,321.5Z" fill="#a63603"/>
<path d="M352.3,338.5L355.2,332.4L358.8,326.7L363.1,321.5L363.0,321.0L356.8,317.3L349.1,318.8L342.7,315.9L336.0,313.8L334.7,318.4L331.8,322.2L328.6,325.8L326.9,330.3L331.8,335.0L338.0,337.6L344.4,339.9L349.3,344.5Z" fill="#fff5eb"/>
<path d="M349.2,349.4L350.9,353.7L351.8,358.3L354.5,362.3L359.1,359.1L364.8,357.8L368.3,352.8L373.6,350.8L376.4,347.8L374.4,343.2L377.5,340.3L378.3,336.7L375.6,331.8L372.3,327.5L368.3,323.9L363.1,321.5L358.8,326.7L355.2,332.4L352.3,338.5L349.3,344.5Z" fill="#fdd0a2"/>
<path d="M377.8,355.5L384.7,355.6L390.0,358.6L394.2,363.2L397.8,360.6L401.8,358.5L405.3,350.7L408.4,342.8L410.9,337.8L403.3,333.3L401.2,330.9L396.6,330.3L387.9,335.3L378.3,336.7L377.5,340.3L374.4,343.2L376.4,347.8L373.6,350.8Z" fill="#fd8d3c"/>
<path d="M289.7,318.5L287.0,314.7L283.3,312.7L278.9,312.2L279.0,318.6L276.9,324.4L271.3,329.0L271.2,335.4L277.3,337.2L282.5,341.0L286.7,339.6L286.7,333.9L289.9,329.5L290.2,323.9L293.9,319.6Z" fill="#fdae6b"/>
<path d="M307.0,324.4L303.0,319.3L298.4,318.5L293.9,319.6L290.2,323.9L289.9,329.5L286.7,333.9L286.7,339.6L290.4,340.4L293.8,342.6L298.1,340.7L301.5,343.1L302.6,338.5L308.2,337.1L309.5,332.7L311.7,328.8Z" fill="#a63603"/>
<path d="M309.5,332.7L308.2,337.1L302.6,338.5L301.5,343.1L303.4,349.3L304.4,355.7L308.1,357.7L310.4,361.9L314.9,362.5L318.4,364.8L321.7,362.5L325.1,354.8L324.1,346.4L327.0,338.7L326.7,330.4L323.0,329.1L319.2,329.5L315.3,330.4L311.7,328.8Z" fill="#fd8d3c"/>
<path d="M327.0,338.7L324.1,346.4L325.1,354.8L321.7,362.5L329.9,364.6L338.1,364.3L346.2,363.8L354.4,362.5L354.5,362.3L351.8,358.3L350.9,353.7L349.2,349.4L349.3,344.5L344.4,339.9L338.0,337.6L331.8,335.0L326.9,330.3L326.7,330.4Z" fill="#fff5eb"/>
<path d="M298.1,340.7L293.8,342.6L290.4,340.4L286.7,339.6L282.5,341.0L283.3,345.8L282.0,350.6L284.4,355.4L282.5,360.2L285.6,362.6L290.3,360.9L295.2,359.8L299.3,356.4L304.4,355.7L303.4,349.3L301.5,343.1Z" fill="#fdae6b"/>
<path d="M299.3,356.4L295.2,359.8L290.3,360.9L285.6,362.6L287.2,368.4L287.3,374.4L293.7,375.9L299.1,379.7L303.9,376.9L308.0,373.0L313.5,371.2L317.8,367.5L318.4,364.8L314.9,362.5L310.4,361.9L308.1,357.7L304.4,355.7Z" fill="#f16913"/>
<path d="M348.4,379.9L350.8,374.7L352.6,369.4L354.9,364.2L354.4,362.5L346.2,363.8L338.1,364.3L329.9,364.6L321.7,362.5L318.4,364.8L317.8,367.5L318.0,374.8L322.5,380.7L323.8,387.7L326.4,394.2L331.9,392.9L336.5,389.3L342.0,388.1L347.0,385.4Z" fill="#fee6ce"/>
<path d="M360.5,368.7L365.0,374.5L372.1,377.1L377.6,381.7L381.8,379.7L386.5,379.8L388.5,378.5L389.8,374.7L391.6,371.0L391.1,366.4L394.2,363.2L390.0,358.6L384.7,355.6L377.8,355.5L373.6,350.8L368.3,352.8L364.8,357.8L359.1,359.1L354.5,362.3L354.4,362.5L354.9,364.2Z" fill="#fdd0a2"/>
<path d="M369.2,401.3L373.2,397.2L373.6,391.6L373.9,385.9L377.6,381.7L372.1,377.1L365.0,374.5L360.5,368.7L354.9,364.2L352.6,369.4L350.8,374.7L348.4,379.9L347.0,385.4L347.9,389.1L352.0,390.4L354.1,393.2L355.8,396.4L362.4,398.5L368.6,401.5Z" fill="#fdae6b"/>
<path d="M374.2,401.7L378.2,404.2L381.4,408.1L385.8,409.6L389.6,407.1L393.7,405.0L390.0,399.2L390.5,392.3L387.7,386.3L386.5,379.8L381.8,379.7L377.6,381.7L373.9,385.9L373.6,391.6L373.2,397.2L369.2,401.3Z" fill="#fff5eb"/>
<path d="M298.3,385.6L299.1,379.7L293.7,375.9L287.3,374.4L285.1,377.8L281.7,380.0L281.2,386.1L283.0,392.0L286.3,393.5L289.5,394.9L293.1,395.2L296.7,395.4L300.0,391.2Z" fill="#fdd0a2"/>
<path d="M326.4,394.2L323.8,387.7L322.5,380.7L318.0,374.8L317.8,367.5L313.5,371.2L308.0,373.0L303.9,376.9L299.1,379.7L298.3,385.6L300.0,391.2L306.6,391.5L313.0,393.1L319.1,396.1L325.8,395.5Z" fill="#fdae6b"/>
<path d="M293.1,395.2L289.5,394.9L286.3,393.5L283.0,392.0L281.2,394.8L278.3,396.7L279.0,400.7L278.3,404.8L281.3,410.1L285.7,414.2L290.6,410.6L296.7,409.5L295.2,406.0L295.9,402.5L297.9,398.9L296.7,395.4Z" fill="#a63603"/>
<path d="M325.8,395.5L319.1,396.1L313.0,393.1L306.6,391.5L300.0,391.2L296.7,395.4L297.9,398.9L295.9,402.5L295.2,406.0L296.7,409.5L300.1,412.6L305.0,412.2L309.3,413.2L312.7,416.3L315.0,411.4L318.8,407.5L324.2,404.8L325.8,399.3Z" fill="#fdae6b"/>
<path d="M346.1,409.3L349.8,405.4L351.7,399.9L355.8,396.4L354.1,393.2L352.0,390.4L347.9,389.1L347.0,385.4L342.0,388.1L336.5,389.3L331.9,392.9L326.4,394.2L325.8,395.5L325.8,399.3L330.4,401.7L332.8,406.8L336.7,410.1L341.5,412.3Z" fill="#fff5eb"/>
<path d="M408.4,342.8L405.3,350.7L401.8,358.5L406.4,360.3L408.9,364.3L411.2,368.4L414.7,371.4L424.5,372.8L424.2,370.8L429.2,361.7L422.5,353.3L420.0,343.3L410.9,337.8Z" fill="#fdae6b"/>
<path d="M409.3,383.5L411.9,379.9L413.8,375.9L414.7,371.4L411.2,368.4L408.9,364.3L406.4,360.3L401.8,358.5L397.8,360.6L394.2,363.2L391.1,366.4L391.6,371.0L389.8,374.7L388.5,378.5L392.4,381.3L397.4,381.6L400.5,386.0L405.5,386.3Z" fill="#fdd0a2"/>
<path d="M414.7,371.4L413.8,375.9L411.9,379.9L409.3,383.5L405.5,386.3L407.3,389.5L409.3,392.5L417.9,395.6L421.9,396.0L425.8,383.3L424.5,372.8Z" fill="#fdd0a2"/>
<path d="M400.5,386.0L397.4,381.6L392.4,381.3L388.5,378.5L386.5,379.8L387.7,386.3L390.5,392.3L390.0,399.2L393.7,405.0L399.6,405.0L402.9,402.6L403.8,398.2L408.2,396.6L409.3,392.5L407.3,389.5L405.5,386.3Z" fill="#fee6ce"/>
<path d="M112.6,350.6L109.8,344.9L103.0,345.2L96.1,345.3L89.5,343.2L88.3,343.2L88.3,346.7L84.9,348.9L85.8,349.7L90.8,355.7L97.5,359.5L104.2,363.4L107.8,359.5L112.5,357.0Z" fill="#fdae6b"/>
<path d="M97.5,359.5L90.8,355.7L85.8,349.7L84.9,348.9L80.8,351.7L73.3,365.0L75.8,370.0L74.5,370.8L76.0,371.9L87.1,378.4L89.8,374.5L93.6,372.4L97.9,371.1L101.9,369.3L103.1,366.3L104.2,363.4Z" fill="#fdae6b"/>
<path d="M148.3,346.4L145.3,344.1L144.0,339.9L140.6,337.9L136.0,338.2L131.5,339.0L131.0,346.0L128.8,352.7L134.9,355.3L141.0,357.7L144.1,355.8L145.7,352.2L149.7,351.5L151.7,348.4Z" fill="#a63603"/>
<path d="M141.6,361.6L141.0,357.7L134.9,355.3L128.8,352.7L123.9,355.3L119.4,358.5L122.2,363.8L125.2,369.0L130.6,371.0L136.4,370.9L138.5,367.8L141.4,365.5Z" fill="#a63603"/>
<path d="M155.1,362.8L154.7,358.9L155.7,355.1L156.3,351.3L153.4,348.4L151.7,348.4L149.7,351.5L145.7,352.2L144.1,355.8L141.0,357.7L141.6,361.6L141.4,365.5L147.5,366.9L152.9,370.1L155.9,366.6Z" fill="#a63603"/>
<path d="M122.2,363.8L119.4,358.5L116.0,357.8L112.5,357.0L107.8,359.5L104.2,363.4L103.1,366.3L101.9,369.3L106.7,372.5L108.6,378.4L112.0,382.9L117.2,385.7L118.5,385.3L121.7,381.9L120.9,376.8L123.6,373.1L125.2,369.0Z" fill="#fdd0a2"/>
<path d="M130.6,371.0L125.2,369.0L123.6,373.1L120.9,376.8L121.7,381.9L118.5,385.3L122.5,385.7L125.5,388.9L129.5,389.2L133.3,390.0L136.7,388.5L139.9,386.6L137.5,383.0L138.7,378.6L135.4,375.2L136.4,370.9Z" fill="#fdae6b"/>
<path d="M156.4,381.8L153.6,378.1L154.1,374.0L152.9,370.1L147.5,366.9L141.4,365.5L138.5,367.8L136.4,370.9L135.4,375.2L138.7,378.6L137.5,383.0L139.9,386.6L144.8,388.4L149.9,387.9L155.3,386.0Z" fill="#a63603"/>
<path d="M89.3,390.5L87.2,386.7L87.7,382.4L87.1,378.4L76.0,371.9L74.5,370.8L66.7,375.8L64.2,380.8L55.0,395.0L55.8,398.3L71.7,393.3L77.5,390.0L76.7,401.7L80.0,404.2L85.3,403.7L85.2,402.5L88.3,398.9L89.8,394.5Z" fill="#7f2704"/>
<path d="M112.0,382.9L108.6,378.4L106.7,372.5L101.9,369.3L97.9,371.1L93.6,372.4L89.8,374.5L87.1,378.4L87.7,382.4L87.2,386.7L89.3,390.5L89.8,394.5L95.5,396.0L100.7,392.0L106.3,391.9L111.9,392.7L114.3,389.0L117.2,385.7Z" fill="#a63603"/>
<path d="M106.3,391.9L100.7,392.0L95.5,396.0L89.8,394.5L88.3,398.9L85.2,402.5L85.3,403.7L90.0,403.3L90.8,413.3L88.4,415.1L93.1,414.9L97.7,419.1L103.5,420.6L109.3,420.7L114.9,418.9L118.1,415.3L116.3,409.7L116.9,403.5L112.5,398.6L111.9,392.7Z" fill="#a63603"/>
<path d="M114.3,389.0L111.9,392.7L112.5,398.6L116.9,403.5L116.3,409.7L118.1,415.3L124.4,412.3L131.4,411.4L133.9,406.2L132.4,400.7L131.1,395.2L133.3,390.0L129.5,389.2L125.5,388.9L122.5,385.7L118.5,385.3L117.2,385.7Z" fill="#f16913"/>
<path d="M144.8,388.4L139.9,386.6L136.7,388.5L133.3,390.0L131.1,395.2L132.4,400.7L133.9,406.2L131.4,411.4L137.7,412.2L143.1,415.8L146.6,414.8L147.0,408.0L149.5,401.5L148.0,394.5L149.9,387.9Z" fill="#a63603"/>
<path d="M156.9,410.7L161.6,406.5L162.6,400.9L164.8,395.8L160.9,390.6L156.1,386.2L155.3,386.0L149.9,387.9L148.0,394.5L149.5,401.5L147.0,408.0L146.6,414.8L151.7,416.3L157.0,416.6Z" fill="#d94801"/>
<path d="M79.7,440.0L87.9,446.7L93.6,446.3L99.1,444.4L102.0,438.8L102.8,432.8L101.7,426.4L103.5,420.6L97.7,419.1L93.1,414.9L88.4,415.1L77.5,423.3L77.5,433.3L79.7,440.0Z" fill="#d94801"/>
<path d="M122.6,431.7L120.6,427.2L115.1,424.3L114.9,418.9L109.3,420.7L103.5,420.6L101.7,426.4L102.8,432.8L102.0,438.8L99.1,444.4L101.8,448.2L106.8,448.3L111.0,449.6L113.5,453.6L116.7,449.9L118.4,445.3L120.0,440.6L123.3,436.9Z" fill="#f16913"/>
<path d="M114.9,418.9L115.1,424.3L120.6,427.2L122.6,431.7L123.3,436.9L127.3,436.3L131.3,435.7L135.2,437.2L139.1,438.1L140.9,432.7L142.4,427.2L140.7,421.1L143.1,415.8L137.7,412.2L131.4,411.4L124.4,412.3L118.1,415.3Z" fill="#d94801"/>
<path d="M161.5,419.2L157.0,416.6L151.7,416.3L146.6,414.8L143.1,415.8L140.7,421.1L142.4,427.2L140.9,432.7L139.1,438.1L142.9,442.8L147.2,447.0L150.8,447.9L154.4,448.8L156.6,443.5L159.2,438.6L162.1,433.8L166.5,429.9L165.7,426.5L165.1,423.0Z" fill="#f16913"/>
<path d="M120.0,440.6L118.4,445.3L116.7,449.9L113.5,453.6L113.9,458.2L115.9,462.4L119.1,464.3L121.8,466.7L128.7,462.5L134.0,456.3L141.4,452.7L147.2,447.0L142.9,442.8L139.1,438.1L135.2,437.2L131.3,435.7L127.3,436.3L123.3,436.9Z" fill="#d94801"/>
<path d="M79.7,440.0L79.7,440.0L80.8,443.3L67.5,446.7L63.3,471.7L73.3,473.3L73.3,479.0L84.3,475.5L85.9,468.4L86.4,461.2L88.7,454.1L87.9,446.7Z" fill="#a63603"/>
<path d="M113.9,458.2L113.5,453.6L111.0,449.6L106.8,448.3L101.8,448.2L99.1,444.4L93.6,446.3L87.9,446.7L88.7,454.1L86.4,461.2L85.9,468.4L84.3,475.5L85.8,475.8L92.8,471.3L101.1,469.6L108.1,465.1L115.9,462.4Z" fill="#fee6ce"/>
<path d="M109.4,489.1L115.4,483.1L117.4,475.0L122.8,468.7L121.8,466.7L119.1,464.3L115.9,462.4L108.1,465.1L101.1,469.6L92.8,471.3L85.8,475.8L91.4,480.8L96.5,486.4L100.7,492.7L107.0,497.0Z" fill="#d94801"/>
<path d="M109.7,502.4L107.0,497.0L100.7,492.7L96.5,486.4L91.4,480.8L85.8,475.8L84.3,475.5L73.3,479.0L73.3,486.7L71.7,505.0L75.8,513.3L89.1,519.6L110.0,508.5Z" fill="#fdae6b"/>
<path d="M115.2,510.4L120.5,511.7L122.6,507.0L126.6,503.9L129.3,499.7L133.3,496.5L130.4,491.3L132.8,485.1L130.2,479.8L129.6,474.2L126.5,471.0L122.8,468.7L117.4,475.0L115.4,483.1L109.4,489.1L107.0,497.0L109.7,502.4L110.0,508.5Z" fill="#fdae6b"/>
<path d="M153.2,470.1L155.3,465.5L156.2,460.2L158.4,455.6L156.4,452.2L154.4,448.8L150.8,447.9L147.2,447.0L141.4,452.7L134.0,456.3L128.7,462.5L121.8,466.7L122.8,468.7L126.5,471.0L129.6,474.2L134.6,476.1L139.7,472.3L144.8,474.3L149.8,474.2Z" fill="#fdae6b"/>
<path d="M144.8,474.3L139.7,472.3L134.6,476.1L129.6,474.2L130.2,479.8L132.8,485.1L130.4,491.3L133.3,496.5L139.3,495.2L145.4,495.6L147.0,491.9L149.1,488.5L150.9,484.9L154.2,482.4L152.2,478.2L149.8,474.2Z" fill="#7f2704"/>
<path d="M158.1,510.1L154.4,507.0L151.7,502.9L148.3,499.5L145.4,495.6L139.3,495.2L133.3,496.5L129.3,499.7L126.6,503.9L122.6,507.0L120.5,511.7L124.7,516.5L128.0,522.1L134.8,522.8L141.3,520.6L147.7,517.6L154.6,518.8L157.6,514.9Z" fill="#f16913"/>
<path d="M89.1,519.6L90.0,520.0L85.0,529.2L89.2,535.0L85.8,544.2L108.3,555.0L115.0,550.0L120.0,538.3L126.3,535.7L126.5,534.9L128.7,528.6L128.0,522.1L124.7,516.5L120.5,511.7L115.2,510.4L110.0,508.5Z" fill="#fdd0a2"/>
<path d="M160.2,537.9L159.1,533.0L158.6,528.0L157.8,523.0L154.6,518.8L147.7,517.6L141.3,520.6L134.8,522.8L128.0,522.1L128.7,528.6L126.5,534.9L126.3,535.7L130.0,534.2L140.0,536.7L144.3,542.4L144.4,542.4L152.5,541.8L159.9,538.5Z" fill="#d94801"/>
<path d="M160.0,552.7L162.7,547.7L160.7,543.1L159.9,538.5L152.5,541.8L144.4,542.4L144.3,542.4L145.0,543.3L141.2,551.0L144.5,553.2L152.5,555.0L159.5,559.2L161.6,557.3Z" fill="#d94801"/>
<path d="M162.7,505.0L167.2,499.7L171.3,494.1L176.6,489.6L176.6,489.3L170.7,488.7L165.7,485.1L160.0,483.6L154.2,482.4L150.9,484.9L149.1,488.5L147.0,491.9L145.4,495.6L148.3,499.5L151.7,502.9L154.4,507.0L158.1,510.1Z" fill="#fdae6b"/>
<path d="M171.1,528.6L167.7,525.3L166.1,520.9L164.3,516.6L160.8,516.3L157.6,514.9L154.6,518.8L157.8,523.0L158.6,528.0L159.1,533.0L160.2,537.9L165.9,538.8L171.5,537.4L173.2,534.8L174.4,531.9Z" fill="#f16913"/>
<path d="M174.4,531.9L173.2,534.8L171.5,537.4L173.7,541.6L179.6,541.1L180.9,546.5L185.2,548.1L188.8,545.0L189.0,539.7L192.4,536.6L194.9,532.8L190.5,531.9L186.1,531.1L181.8,530.0L177.9,527.7Z" fill="#7f2704"/>
<path d="M185.9,553.4L185.2,548.1L180.9,546.5L179.6,541.1L173.7,541.6L171.5,537.4L165.9,538.8L160.2,537.9L159.9,538.5L160.7,543.1L162.7,547.7L160.0,552.7L161.6,557.3L167.5,559.0L173.4,560.0L179.6,557.5L185.5,559.3L186.3,558.7Z" fill="#d94801"/>
<path d="M152.5,555.0L144.5,553.2L141.2,551.0L139.2,555.0L143.3,566.7L141.7,570.0L133.3,572.8L143.1,573.6L155.6,571.3L158.4,565.5L159.5,559.2Z" fill="#d94801"/>
<path d="M179.6,557.5L173.4,560.0L167.5,559.0L161.6,557.3L159.5,559.2L158.4,565.5L155.6,571.3L157.7,575.7L160.3,579.5L166.2,580.6L167.7,585.3L172.1,584.2L176.6,583.6L179.6,577.8L181.4,571.6L181.8,564.9L185.5,559.3Z" fill="#d94801"/>
<path d="M213.8,548.2L215.3,542.3L213.7,539.1L212.0,536.0L209.4,533.3L208.9,529.5L205.5,527.9L201.7,527.4L198.6,530.4L194.9,532.8L192.4,536.6L189.0,539.7L188.8,545.0L185.2,548.1L185.9,553.4L186.3,558.7L190.4,560.5L194.7,561.5L199.2,561.2L203.5,562.3L207.3,557.2L212.9,554.2Z" fill="#fdae6b"/>
<path d="M219.9,543.0L224.3,541.2L228.8,540.7L233.3,540.7L231.7,533.9L231.7,526.8L228.4,520.2L228.7,513.0L223.9,517.3L217.6,519.8L214.4,526.1L208.9,529.5L209.4,533.3L212.0,536.0L213.7,539.1L215.3,542.3Z" fill="#fdd0a2"/>
<path d="M218.3,557.4L224.4,559.4L229.8,562.6L235.7,565.1L239.0,563.0L241.3,559.6L244.9,558.0L248.3,556.1L248.6,551.1L247.2,546.3L244.4,543.3L239.6,545.2L237.2,541.2L233.3,540.7L228.8,540.7L224.3,541.2L219.9,543.0L215.3,542.3L213.8,548.2L212.9,554.2Z" fill="#f16913"/>
<path d="M231.3,575.3L234.1,572.3L236.1,569.0L235.7,565.1L229.8,562.6L224.4,559.4L218.3,557.4L212.9,554.2L207.3,557.2L203.5,562.3L206.5,567.1L206.7,572.8L206.6,578.6L210.0,583.3L210.1,583.3L215.2,581.3L220.7,581.4L226.2,581.1L231.3,579.1Z" fill="#fd8d3c"/>
<path d="M206.6,578.6L206.7,572.8L206.5,567.1L203.5,562.3L199.2,561.2L194.7,561.5L190.4,560.5L186.3,558.7L185.5,559.3L181.8,564.9L181.4,571.6L179.6,577.8L176.6,583.6L178.8,586.9L182.9,587.7L184.7,591.6L188.7,592.5L194.8,592.1L200.0,589.3L205.5,587.5L210.0,583.3Z" fill="#fff5eb"/>
<path d="M235.3,583.4L231.3,579.1L226.2,581.1L220.7,581.4L215.2,581.3L210.1,583.3L212.5,588.8L215.5,594.0L214.5,600.5L217.0,606.0L222.3,604.5L227.5,602.9L232.9,602.3L238.1,600.7L239.1,594.6L238.5,588.5Z" fill="#d94801"/>
<path d="M166.2,580.6L160.3,579.5L157.7,575.7L155.6,571.3L143.1,573.6L133.3,572.8L129.2,574.2L132.5,586.7L128.6,590.2L138.6,594.1L150.9,597.5L155.2,598.0L159.4,596.8L161.5,593.9L163.3,590.9L165.0,587.7L167.7,585.3Z" fill="#d94801"/>
<path d="M143.2,616.9L147.0,612.8L148.3,607.7L150.0,602.8L150.9,597.5L138.6,594.1L128.6,590.2L125.0,593.3L121.7,611.7L128.3,614.2L135.0,618.3L136.5,621.7Z" fill="#fd8d3c"/>
<path d="M172.1,584.2L167.7,585.3L165.0,587.7L163.3,590.9L161.5,593.9L159.4,596.8L162.4,600.8L164.3,605.5L164.9,610.6L167.4,614.9L167.6,615.0L172.5,615.9L177.4,614.7L182.4,612.9L187.3,615.0L189.8,611.7L190.4,606.8L187.3,602.2L188.7,597.3L188.7,592.5L184.7,591.6L182.9,587.7L178.8,586.9L176.6,583.6Z" fill="#a63603"/>
<path d="M210.0,583.3L205.5,587.5L200.0,589.3L194.8,592.1L188.7,592.5L188.7,597.3L187.3,602.2L190.4,606.8L189.8,611.7L195.9,611.3L202.0,612.7L208.1,610.9L214.2,611.7L216.2,609.1L217.0,606.0L214.5,600.5L215.5,594.0L212.5,588.8L210.1,583.3Z" fill="#fdd0a2"/>
<path d="M167.4,614.9L164.9,610.6L164.3,605.5L162.4,600.8L159.4,596.8L155.2,598.0L150.9,597.5L150.0,602.8L148.3,607.7L147.0,612.8L143.2,616.9L148.1,616.7L152.7,619.5L157.8,617.1L162.5,618.2Z" fill="#fff5eb"/>
<path d="M208.1,610.9L202.0,612.7L195.9,611.3L189.8,611.7L187.3,615.0L188.2,620.5L193.9,625.5L198.9,631.2L206.3,634.1L211.1,640.1L214.5,639.6L216.4,633.0L220.0,627.2L216.8,624.0L216.6,619.6L215.0,615.8L214.2,611.7Z" fill="#a63603"/>
<path d="M232.9,602.3L227.5,602.9L222.3,604.5L217.0,606.0L216.2,609.1L214.2,611.7L215.0,615.8L216.6,619.6L216.8,624.0L220.0,627.2L228.2,627.8L235.5,622.5L243.7,622.7L251.7,621.8L250.6,616.8L248.3,612.2L246.6,608.6L244.5,605.3L239.7,604.4L238.1,600.7Z" fill="#fd8d3c"/>
<path d="M160.3,623.7L162.5,618.2L157.8,617.1L152.7,619.5L148.1,616.7L143.2,616.9L136.5,621.7L139.2,627.5L145.0,630.0L150.8,631.7L159.2,629.4Z" fill="#d94801"/>
<path d="M185.1,635.4L184.8,629.9L184.8,624.6L188.2,620.5L187.3,615.0L182.4,612.9L177.4,614.7L172.5,615.9L167.6,615.0L167.4,621.2L168.0,627.4L172.5,632.8L171.7,639.2L174.2,641.1L177.2,641.9L181.4,639.3Z" fill="#f16913"/>
<path d="M161.9,640.5L166.8,638.9L171.7,639.2L172.5,632.8L168.0,627.4L167.4,621.2L167.6,615.0L167.4,614.9L162.5,618.2L160.3,623.7L159.2,629.4L160.0,629.2L160.8,635.0L158.6,638.6Z" fill="#7f2704"/>
<path d="M186.0,642.3L191.8,641.9L196.0,646.4L201.7,646.1L206.9,643.9L211.1,640.1L206.3,634.1L198.9,631.2L193.9,625.5L188.2,620.5L184.8,624.6L184.8,629.9L185.1,635.4L181.4,639.3Z" fill="#7f2704"/>
<path d="M177.2,641.9L176.5,645.2L176.7,648.5L177.9,652.8L179.5,656.9L183.5,658.4L187.6,658.8L192.0,657.9L195.8,660.2L198.3,657.1L198.9,653.2L199.9,649.5L201.7,646.1L196.0,646.4L191.8,641.9L186.0,642.3L181.4,639.3Z" fill="#7f2704"/>
<path d="M176.7,648.5L176.5,645.2L177.2,641.9L174.2,641.1L171.7,639.2L166.8,638.9L161.9,640.5L158.6,638.6L156.7,641.7L152.5,650.0L153.3,657.4Z" fill="#fdd0a2"/>
<path d="M179.5,656.9L177.9,652.8L176.7,648.5L153.3,657.4L153.3,657.5L170.0,664.2L173.8,666.4Z" fill="#fee6ce"/>
<path d="M173.8,666.4L180.0,670.0L190.0,676.7L198.3,673.3L201.0,673.3L200.1,670.5L196.8,665.8L195.8,660.2L192.0,657.9L187.6,658.8L183.5,658.4L179.5,656.9Z" fill="#fdd0a2"/>
<path d="M199.9,649.5L198.9,653.2L198.3,657.1L195.8,660.2L196.8,665.8L200.1,670.5L201.0,673.3L208.9,673.3L212.5,669.0L216.9,662.8L219.4,655.4L219.4,650.0L218.6,644.6L216.1,642.5L214.5,639.6L211.1,640.1L206.9,643.9L201.7,646.1Z" fill="#fee6ce"/>
<path d="M230.7,664.8L226.0,662.6L224.1,657.6L219.4,655.4L216.9,662.8L212.5,669.0L208.9,673.3L211.7,673.3L232.5,674.2L232.9,675.1L233.8,668.6Z" fill="#d94801"/>
<path d="M242.3,649.1L234.3,648.4L226.4,646.7L218.6,644.6L219.4,650.0L219.4,655.4L224.1,657.6L226.0,662.6L230.7,664.8L233.8,668.6L238.2,664.1L241.5,658.6L244.6,653.0L250.4,649.7Z" fill="#fff5eb"/>
<path d="M246.0,588.0L252.1,582.8L260.1,584.3L266.6,580.4L264.6,574.0L264.9,567.2L259.7,566.0L255.5,563.2L252.9,558.1L248.3,556.1L244.9,558.0L241.3,559.6L239.0,563.0L235.7,565.1L236.1,569.0L234.1,572.3L231.3,575.3L231.3,579.1L235.3,583.4L238.5,588.5Z" fill="#a63603"/>
<path d="M239.1,594.6L238.1,600.7L239.7,604.4L244.5,605.3L246.6,608.6L248.3,612.2L252.6,604.3L258.7,597.6L262.1,589.0L267.7,582.0L266.6,580.4L260.1,584.3L252.1,582.8L246.0,588.0L238.5,588.5Z" fill="#fee6ce"/>
<path d="M262.1,589.0L258.7,597.6L252.6,604.3L248.3,612.2L250.6,616.8L251.7,621.8L254.3,624.0L258.5,618.6L263.9,614.9L270.0,612.1L275.8,609.0L276.8,603.7L274.6,598.5L277.7,593.2L275.8,587.9L271.2,585.8L267.7,582.0Z" fill="#fd8d3c"/>
<path d="M271.2,585.8L275.8,587.9L282.5,586.7L289.0,584.7L296.0,586.8L302.6,584.9L304.5,582.4L301.4,575.5L301.5,567.9L299.6,560.7L298.7,553.3L298.4,553.0L293.3,552.0L288.6,549.8L281.7,552.9L277.7,559.8L269.6,561.1L264.9,567.2L264.6,574.0L266.6,580.4L267.7,582.0Z" fill="#fdae6b"/>
<path d="M299.6,560.7L301.5,567.9L301.4,575.5L304.5,582.4L309.1,581.2L313.9,583.6L318.6,583.3L323.2,581.5L325.9,575.6L326.8,569.1L330.1,563.5L333.1,557.8L331.7,556.0L323.3,556.6L315.1,555.5L306.8,555.3L298.7,553.3Z" fill="#fff5eb"/>
<path d="M337.1,559.4L333.1,557.8L330.1,563.5L326.8,569.1L325.9,575.6L323.2,581.5L326.1,582.7L328.1,585.1L332.9,585.0L337.4,584.1L341.4,581.7L345.4,579.3L349.9,576.9L354.1,574.0L351.1,570.2L349.2,565.5L343.5,564.0L341.5,559.3Z" fill="#fdd0a2"/>
<path d="M277.7,593.2L274.6,598.5L276.8,603.7L275.8,609.0L283.6,611.3L289.5,617.6L298.0,618.4L304.9,622.5L306.4,621.1L304.4,612.2L306.6,602.8L303.3,594.0L302.6,584.9L296.0,586.8L289.0,584.7L282.5,586.7L275.8,587.9Z" fill="#a63603"/>
<path d="M302.6,584.9L303.3,594.0L306.6,602.8L304.4,612.2L306.4,621.1L310.4,620.1L314.5,619.8L318.6,619.4L322.8,619.1L324.8,613.5L328.7,609.0L332.3,604.3L333.9,598.5L331.1,595.7L331.3,591.6L329.4,588.5L328.1,585.1L326.1,582.7L323.2,581.5L318.6,583.3L313.9,583.6L309.1,581.2L304.5,582.4Z" fill="#7f2704"/>
<path d="M332.3,604.3L328.7,609.0L324.8,613.5L322.8,619.1L330.3,621.5L337.2,624.9L342.7,630.8L349.7,634.1L352.6,630.5L354.8,626.3L354.6,621.9L357.9,618.1L356.8,613.5L358.3,609.4L357.5,605.5L355.4,602.1L350.5,600.4L345.4,599.4L339.6,599.1L333.9,598.5Z" fill="#f16913"/>
<path d="M329.4,588.5L331.3,591.6L331.1,595.7L333.9,598.5L339.6,599.1L345.4,599.4L346.7,594.4L344.2,589.3L344.6,584.3L345.4,579.3L341.4,581.7L337.4,584.1L332.9,585.0L328.1,585.1Z" fill="#fee6ce"/>
<path d="M256.1,629.4L256.5,635.3L259.3,640.4L259.8,641.9L266.7,640.0L268.9,643.4L273.0,640.5L283.7,635.4L293.8,629.2L304.4,623.9L304.9,622.5L298.0,618.4L289.5,617.6L283.6,611.3L275.8,609.0L270.0,612.1L263.9,614.9L258.5,618.6L254.3,624.0Z" fill="#fff5eb"/>
<path d="M293.8,629.2L283.7,635.4L273.0,640.5L268.9,643.4L270.0,645.0L276.7,650.0L283.3,661.7L296.7,665.0L305.8,669.2L310.0,661.7L310.4,661.7L304.4,623.9Z" fill="#fff5eb"/>
<path d="M304.9,622.5L304.4,623.9L310.4,661.7L319.8,660.8L330.0,658.3L340.0,656.7L338.3,648.3L346.7,643.3L350.3,637.5L349.7,634.1L342.7,630.8L337.2,624.9L330.3,621.5L322.8,619.1L318.6,619.4L314.5,619.8L310.4,620.1L306.4,621.1Z" fill="#fdae6b"/>
<path d="M243.7,622.7L235.5,622.5L228.2,627.8L220.0,627.2L216.4,633.0L214.5,639.6L216.1,642.5L218.6,644.6L226.4,646.7L234.3,648.4L242.3,649.1L250.4,649.7L255.9,648.2L256.9,647.7L257.5,642.5L259.8,641.9L259.3,640.4L256.5,635.3L256.1,629.4L254.3,624.0L251.7,621.8Z" fill="#f16913"/>
<path d="M244.6,653.0L241.5,658.6L238.2,664.1L233.8,668.6L232.9,675.1L235.8,680.8L248.3,680.0L261.7,673.3L259.2,664.2L250.0,661.7L249.2,655.0L256.7,650.0L256.9,647.7L255.9,648.2L250.4,649.7Z" fill="#fee6ce"/>
<path d="M350.7,552.8L356.7,552.4L363.0,553.2L368.3,549.9L370.3,544.1L370.3,538.3L370.9,532.4L369.6,526.5L369.4,526.4L365.9,526.4L362.3,526.8L358.8,526.6L355.3,525.9L353.0,533.4L349.3,540.4L348.3,548.4L345.3,555.6Z" fill="#fdae6b"/>
<path d="M341.5,559.3L343.5,564.0L349.2,565.5L351.1,570.2L354.1,574.0L357.2,575.1L360.4,575.7L363.1,571.9L365.8,568.1L370.5,565.7L371.5,560.6L370.7,555.0L368.3,549.9L363.0,553.2L356.7,552.4L350.7,552.8L345.3,555.6Z" fill="#fff5eb"/>
<path d="M370.7,555.0L371.5,560.6L377.2,559.7L381.7,564.2L387.3,563.4L392.5,564.8L391.3,557.1L391.7,549.3L392.3,541.5L392.5,533.8L390.1,531.1L386.2,530.2L383.4,528.0L381.5,524.7L375.5,525.1L369.6,526.5L370.9,532.4L370.3,538.3L370.3,544.1L368.3,549.9Z" fill="#fee6ce"/>
<path d="M395.6,569.4L400.4,572.2L401.2,567.4L407.0,565.8L407.2,560.6L410.0,557.1L411.0,551.8L410.2,546.6L407.3,541.7L407.8,536.5L403.9,536.3L400.1,535.4L396.6,532.9L392.5,533.8L392.3,541.5L391.7,549.3L391.3,557.1L392.5,564.8Z" fill="#a63603"/>
<path d="M415.2,557.4L419.8,555.8L424.1,553.0L429.0,552.3L425.7,547.3L426.5,541.4L424.6,536.0L423.9,530.4L420.6,533.8L416.0,533.8L411.6,534.4L407.8,536.5L407.3,541.7L410.2,546.6L411.0,551.8L410.0,557.1Z" fill="#fd8d3c"/>
<path d="M400.4,579.2L402.4,585.6L403.4,586.4L406.7,576.7L418.3,566.7L435.0,562.5L439.6,563.9L429.0,552.3L424.1,553.0L419.8,555.8L415.2,557.4L410.0,557.1L407.2,560.6L407.0,565.8L401.2,567.4L400.4,572.2Z" fill="#fee6ce"/>
<path d="M370.5,565.7L365.8,568.1L363.1,571.9L360.4,575.7L361.8,579.5L363.5,583.1L375.3,585.2L385.9,590.7L393.8,594.3L400.0,593.3L403.3,586.7L403.4,586.4L402.4,585.6L400.4,579.2L400.4,572.2L395.6,569.4L392.5,564.8L387.3,563.4L381.7,564.2L377.2,559.7L371.5,560.6Z" fill="#fdd0a2"/>
<path d="M349.9,576.9L345.4,579.3L344.6,584.3L344.2,589.3L346.7,594.4L345.4,599.4L350.5,600.4L355.4,602.1L356.2,596.8L360.5,593.1L362.9,588.5L363.5,583.1L361.8,579.5L360.4,575.7L357.2,575.1L354.1,574.0Z" fill="#fdd0a2"/>
<path d="M371.5,606.0L382.3,604.7L381.7,598.3L390.0,595.0L393.8,594.3L385.9,590.7L375.3,585.2L363.5,583.1L362.9,588.5L360.5,593.1L356.2,596.8L355.4,602.1L357.5,605.5L358.3,609.4Z" fill="#fee6ce"/>
<path d="M356.8,613.5L357.9,618.1L354.6,621.9L354.8,626.3L373.9,626.0L392.6,621.5L395.9,620.9L395.8,620.0L393.3,615.0L382.5,606.7L382.3,604.7L371.5,606.0L358.3,609.4Z" fill="#fd8d3c"/>
<path d="M352.6,630.5L349.7,634.1L350.3,637.5L350.8,636.7L361.7,640.0L376.7,640.0L391.7,641.7L399.2,636.7L396.7,631.7L395.9,620.9L392.6,621.5L373.9,626.0L354.8,626.3Z" fill="#fdd0a2"/>
<path d="M248.8,452.9L249.1,449.3L249.4,445.7L250.0,442.3L251.3,438.9L248.9,437.0L243.1,439.4L236.4,436.7L230.6,439.2L224.6,440.7L224.1,442.2L226.6,447.4L228.3,452.9L233.4,452.1L238.5,451.3L243.6,453.7L248.8,452.9Z" fill="#a63603"/>
<path d="M274.5,442.8L270.4,440.6L265.4,439.4L262.6,435.5L259.8,435.8L255.7,437.8L251.3,438.9L250.0,442.3L249.4,445.7L249.1,449.3L248.8,452.9L254.2,452.8L258.5,455.2L262.7,457.9L267.1,460.2L271.1,455.1L276.5,451.6L277.0,447.0Z" fill="#a63603"/>
<path d="M302.4,462.9L306.8,459.6L306.3,455.1L306.8,450.9L301.5,448.0L296.2,445.0L290.2,443.6L285.2,440.1L281.3,443.8L277.0,447.0L276.5,451.6L280.2,457.6L287.9,459.0L290.8,465.8L296.6,469.5L299.6,468.0L302.9,467.4Z" fill="#a63603"/>
<path d="M334.7,459.1L328.4,453.3L326.0,446.0L324.9,438.2L319.7,436.9L317.0,440.8L314.5,445.0L311.6,448.8L306.8,450.9L306.3,455.1L306.8,459.6L302.4,462.9L302.9,467.4L306.9,469.2L310.9,471.2L314.9,473.2L318.2,476.3L321.7,475.7L324.8,474.0L328.5,473.9L331.2,471.2L333.8,469.3L335.8,466.9Z" fill="#fd8d3c"/>
<path d="M234.1,473.9L238.8,475.9L244.2,475.5L246.1,470.0L246.8,464.3L245.8,458.2L248.8,452.9L243.6,453.7L238.5,451.3L233.4,452.1L228.3,452.9L227.3,456.5L225.8,459.8L229.2,464.7L230.3,470.6Z" fill="#d94801"/>
<path d="M245.8,458.2L246.8,464.3L246.1,470.0L244.2,475.5L247.5,477.8L250.9,479.6L254.6,478.3L258.1,476.7L261.9,476.0L265.9,476.8L266.2,472.6L267.7,468.5L265.3,464.2L267.1,460.2L262.7,457.9L258.5,455.2L254.2,452.8L248.8,452.9L248.8,452.9Z" fill="#f16913"/>
<path d="M290.8,465.8L287.9,459.0L280.2,457.6L276.5,451.6L271.1,455.1L267.1,460.2L265.3,464.2L267.7,468.5L266.2,472.6L265.9,476.8L270.2,479.9L276.1,480.4L281.6,478.7L286.8,476.4L292.3,474.9L294.5,472.2L296.6,469.5Z" fill="#fd8d3c"/>
<path d="M236.5,509.0L240.2,505.3L245.5,504.8L249.2,500.9L248.9,495.5L251.4,490.4L252.7,485.1L250.9,479.6L247.5,477.8L244.2,475.5L238.8,475.9L234.2,481.4L233.2,488.9L227.8,493.9L224.5,500.1L228.1,504.6L231.2,509.4Z" fill="#a63603"/>
<path d="M269.7,503.7L273.2,500.8L274.2,495.4L269.9,490.7L269.7,485.4L270.2,479.9L265.9,476.8L261.9,476.0L258.1,476.7L254.6,478.3L250.9,479.6L252.7,485.1L251.4,490.4L248.9,495.5L249.2,500.9L253.7,502.3L258.0,504.5L262.7,505.6L267.1,507.4Z" fill="#fff5eb"/>
<path d="M278.0,499.0L282.8,501.1L287.6,500.1L292.4,500.8L294.2,498.5L293.2,492.6L295.1,486.5L293.1,480.7L292.3,474.9L286.8,476.4L281.6,478.7L276.1,480.4L270.2,479.9L269.7,485.4L269.9,490.7L274.2,495.4L273.2,500.8Z" fill="#fdae6b"/>
<path d="M299.6,468.0L296.6,469.5L294.5,472.2L292.3,474.9L293.1,480.7L295.1,486.5L293.2,492.6L294.2,498.5L299.8,496.6L305.5,495.4L311.6,497.0L317.1,494.7L317.3,490.1L317.7,485.5L317.4,480.9L318.2,476.3L314.9,473.2L310.9,471.2L306.9,469.2L302.9,467.4Z" fill="#fdae6b"/>
<path d="M317.4,480.9L317.7,485.5L317.3,490.1L317.1,494.7L319.8,498.3L324.9,500.4L330.4,497.2L335.3,501.5L340.7,499.9L342.4,497.3L341.5,489.9L338.8,483.4L334.1,477.7L331.2,471.2L328.5,473.9L324.8,474.0L321.7,475.7L318.2,476.3Z" fill="#fdae6b"/>
<path d="M268.2,511.6L267.6,516.0L271.3,519.4L275.0,522.8L275.2,528.7L279.1,532.0L279.2,532.1L282.4,526.8L288.6,524.8L293.0,520.9L296.8,516.3L294.7,512.7L294.2,508.7L294.9,504.3L292.4,500.8L287.6,500.1L282.8,501.1L278.0,499.0L273.2,500.8L269.7,503.7L267.1,507.4Z" fill="#d94801"/>
<path d="M301.4,516.4L305.5,518.1L309.0,521.3L313.3,522.2L317.0,517.5L319.5,513.0L317.3,507.8L321.1,503.4L319.8,498.3L317.1,494.7L311.6,497.0L305.5,495.4L299.8,496.6L294.2,498.5L292.4,500.8L294.9,504.3L294.2,508.7L294.7,512.7L296.8,516.3Z" fill="#fdd0a2"/>
<path d="M324.1,517.8L331.2,516.1L338.3,519.3L345.4,517.5L343.5,513.3L344.7,508.3L343.3,503.9L340.7,499.9L335.3,501.5L330.4,497.2L324.9,500.4L319.8,498.3L321.1,503.4L317.3,507.8L319.5,513.0L317.0,517.5Z" fill="#fd8d3c"/>
<path d="M262.7,505.6L258.0,504.5L253.7,502.3L249.2,500.9L245.5,504.8L240.2,505.3L236.5,509.0L231.2,509.4L231.1,509.5L236.0,513.2L241.1,516.8L243.1,523.3L248.3,526.7L253.2,524.1L258.3,522.0L262.3,517.7L267.6,516.0L268.2,511.6L267.1,507.4Z" fill="#fee6ce"/>
<path d="M275.2,528.7L275.0,522.8L271.3,519.4L267.6,516.0L262.3,517.7L258.3,522.0L253.2,524.1L248.3,526.7L247.7,531.1L250.1,535.5L249.3,539.9L248.3,544.3L256.2,541.7L264.4,539.8L271.8,536.0L279.1,532.0Z" fill="#fdd0a2"/>
<path d="M228.7,513.0L228.4,520.2L231.7,526.8L231.7,533.9L233.3,540.7L237.2,541.2L239.6,545.2L244.4,543.3L247.2,546.3L248.3,544.3L249.3,539.9L250.1,535.5L247.7,531.1L248.3,526.7L243.1,523.3L241.1,516.8L236.0,513.2L231.1,509.5Z" fill="#fd8d3c"/>
<path d="M281.8,536.4L285.7,540.0L285.4,545.8L288.6,549.8L293.3,552.0L298.4,553.0L303.4,547.8L306.1,541.1L311.8,536.5L314.5,529.8L314.8,525.8L313.3,522.2L309.0,521.3L305.5,518.1L301.4,516.4L296.8,516.3L293.0,520.9L288.6,524.8L282.4,526.8L279.2,532.1Z" fill="#fff5eb"/>
<path d="M314.8,525.8L314.5,529.8L319.3,531.0L322.2,535.8L328.0,534.9L331.7,538.3L335.8,533.6L342.7,533.1L346.3,527.5L351.8,524.9L347.8,521.9L345.4,517.5L338.3,519.3L331.2,516.1L324.1,517.8L317.0,517.5L313.3,522.2Z" fill="#fdae6b"/>
<path d="M279.1,532.0L271.8,536.0L264.4,539.8L256.2,541.7L248.3,544.3L247.2,546.3L248.6,551.1L248.3,556.1L252.9,558.1L255.5,563.2L259.7,566.0L264.9,567.2L269.6,561.1L277.7,559.8L281.7,552.9L288.6,549.8L285.4,545.8L285.7,540.0L281.8,536.4L279.2,532.1Z" fill="#fee6ce"/>
<path d="M298.7,553.3L306.8,555.3L315.1,555.5L323.3,556.6L331.7,556.0L330.1,551.6L330.9,547.2L331.5,542.8L331.7,538.3L328.0,534.9L322.2,535.8L319.3,531.0L314.5,529.8L311.8,536.5L306.1,541.1L303.4,547.8L298.4,553.0Z" fill="#fff5eb"/>
<path d="M348.3,548.4L349.3,540.4L353.0,533.4L355.3,525.9L351.8,524.9L346.3,527.5L342.7,533.1L335.8,533.6L331.7,538.3L331.5,542.8L330.9,547.2L330.1,551.6L331.7,556.0L333.1,557.8L337.1,559.4L341.5,559.3L345.3,555.6Z" fill="#fdae6b"/>
<path d="M165.7,426.5L166.5,429.9L170.2,433.3L175.5,432.3L179.1,435.6L183.7,436.5L189.6,435.2L195.2,432.7L192.0,429.1L190.8,424.1L187.4,420.7L184.5,416.8L180.3,415.8L176.5,413.8L173.4,415.8L170.4,417.9L168.1,420.9L165.1,423.0Z" fill="#a63603"/>
<path d="M203.0,421.6L201.7,416.5L205.4,412.2L204.2,407.1L204.0,406.5L199.2,405.8L195.7,408.8L192.9,412.7L187.9,413.7L184.5,416.8L187.4,420.7L190.8,424.1L192.0,429.1L195.2,432.7L195.3,432.7L197.7,429.0L201.3,426.3Z" fill="#d94801"/>
<path d="M226.5,423.8L229.4,418.9L223.6,414.9L217.5,411.5L211.2,408.6L204.2,407.1L205.4,412.2L201.7,416.5L203.0,421.6L201.3,426.3L206.9,426.7L212.7,426.5L218.1,429.0L223.8,428.8Z" fill="#d94801"/>
<path d="M181.7,451.8L183.0,446.9L182.4,441.5L183.7,436.5L179.1,435.6L175.5,432.3L170.2,433.3L166.5,429.9L162.1,433.8L159.2,438.6L156.6,443.5L154.4,448.8L156.4,452.2L158.4,455.6L162.1,457.1L166.2,457.4L170.1,458.5L173.4,461.0L176.7,459.1L179.7,456.6Z" fill="#a63603"/>
<path d="M195.2,432.7L189.6,435.2L183.7,436.5L182.4,441.5L183.0,446.9L181.7,451.8L179.7,456.6L184.9,457.9L190.3,458.2L195.7,457.7L201.0,458.6L202.2,452.3L203.5,446.0L202.4,442.1L201.0,438.4L196.8,436.4L195.3,432.7Z" fill="#f16913"/>
<path d="M218.1,429.0L212.7,426.5L206.9,426.7L201.3,426.3L197.7,429.0L195.3,432.7L196.8,436.4L201.0,438.4L202.4,442.1L203.5,446.0L208.7,445.4L214.0,445.0L218.7,441.8L224.1,442.2L224.6,440.7L224.7,434.7L223.8,428.8Z" fill="#a63603"/>
<path d="M224.7,434.7L224.6,440.7L230.6,439.2L236.4,436.7L243.1,439.4L248.9,437.0L245.5,431.1L242.8,424.8L236.5,421.8L230.7,418.2L229.4,418.9L226.5,423.8L223.8,428.8Z" fill="#7f2704"/>
<path d="M251.3,438.9L255.7,437.8L259.8,435.8L258.1,431.3L256.0,427.0L256.6,421.7L253.6,417.6L248.6,421.9L242.8,424.8L245.5,431.1L248.9,437.0Z" fill="#a63603"/>
<path d="M209.1,462.2L214.7,461.7L220.5,462.0L225.8,459.8L227.3,456.5L228.3,452.9L226.6,447.4L224.1,442.2L218.7,441.8L214.0,445.0L208.7,445.4L203.5,446.0L202.2,452.3L201.0,458.6L201.7,461.7L203.8,464.2Z" fill="#f16913"/>
<path d="M179.4,479.2L178.7,472.8L173.8,467.5L173.4,461.0L170.1,458.5L166.2,457.4L162.1,457.1L158.4,455.6L156.2,460.2L155.3,465.5L153.2,470.1L149.8,474.2L152.2,478.2L154.2,482.4L160.0,483.6L165.7,485.1L170.7,488.7L176.6,489.3L180.0,485.7Z" fill="#fd8d3c"/>
<path d="M203.8,464.2L201.7,461.7L201.0,458.6L195.7,457.7L190.3,458.2L184.9,457.9L179.7,456.6L176.7,459.1L173.4,461.0L173.8,467.5L178.7,472.8L179.4,479.2L180.0,485.7L184.4,484.2L188.9,484.4L191.4,479.5L195.1,475.6L198.3,471.3L203.3,468.6Z" fill="#a63603"/>
<path d="M205.9,472.1L209.7,474.1L213.2,476.5L216.0,479.7L219.3,477.0L222.1,473.6L227.2,473.5L230.3,470.6L229.2,464.7L225.8,459.8L220.5,462.0L214.7,461.7L209.1,462.2L203.8,464.2L203.3,468.6Z" fill="#f16913"/>
<path d="M198.3,471.3L195.1,475.6L191.4,479.5L188.9,484.4L194.4,486.4L197.4,491.9L202.7,494.1L207.1,497.6L212.4,497.9L217.5,496.4L215.9,492.4L214.8,488.2L214.9,484.0L216.0,479.7L213.2,476.5L209.7,474.1L205.9,472.1L203.3,468.6Z" fill="#fdd0a2"/>
<path d="M214.9,484.0L214.8,488.2L215.9,492.4L217.5,496.4L220.8,498.6L224.5,500.1L227.8,493.9L233.2,488.9L234.2,481.4L238.8,475.9L234.1,473.9L230.3,470.6L227.2,473.5L222.1,473.6L219.3,477.0L216.0,479.7Z" fill="#f16913"/>
<path d="M202.7,494.1L197.4,491.9L194.4,486.4L188.9,484.4L184.4,484.2L180.0,485.7L176.6,489.3L176.6,489.6L177.1,496.0L179.9,501.5L183.2,506.8L186.0,512.3L191.0,514.3L196.0,516.2L198.3,511.3L200.2,506.1L205.3,502.9L207.1,497.6Z" fill="#a63603"/>
<path d="M181.9,515.0L186.0,512.3L183.2,506.8L179.9,501.5L177.1,496.0L176.6,489.6L171.3,494.1L167.2,499.7L162.7,505.0L158.1,510.1L157.6,514.9L160.8,516.3L164.3,516.6L171.2,516.3L177.9,518.1Z" fill="#f16913"/>
<path d="M231.2,509.4L228.1,504.6L224.5,500.1L220.8,498.6L217.5,496.4L212.4,497.9L207.1,497.6L205.3,502.9L200.2,506.1L198.3,511.3L196.0,516.2L198.9,521.7L201.7,527.4L205.5,527.9L208.9,529.5L214.4,526.1L217.6,519.8L223.9,517.3L228.7,513.0L231.1,509.5Z" fill="#fd8d3c"/>
<path d="M178.6,522.9L177.9,518.1L171.2,516.3L164.3,516.6L166.1,520.9L167.7,525.3L171.1,528.6L174.4,531.9L177.9,527.7Z" fill="#fd8d3c"/>
<path d="M181.8,530.0L186.1,531.1L190.5,531.9L194.9,532.8L198.6,530.4L201.7,527.4L198.9,521.7L196.0,516.2L191.0,514.3L186.0,512.3L181.9,515.0L177.9,518.1L178.6,522.9L177.9,527.7Z" fill="#a63603"/>
<path d="M362.4,398.5L355.8,396.4L351.7,399.9L349.8,405.4L346.1,409.3L341.5,412.3L342.9,418.0L346.2,422.9L350.0,420.2L354.3,418.7L359.4,418.7L362.8,415.2L365.0,412.1L366.9,408.9L366.5,404.7L368.6,401.5Z" fill="#fff5eb"/>
<path d="M417.9,395.6L409.3,392.5L408.2,396.6L403.8,398.2L402.9,402.6L399.6,405.0L403.0,407.1L405.0,410.3L407.0,413.5L408.8,416.8L418.2,413.1L426.2,408.8L421.7,396.7L421.9,396.0Z" fill="#fee6ce"/>
<path d="M379.9,434.8L383.3,432.9L385.8,430.0L387.7,424.9L387.3,419.8L386.0,414.7L385.8,409.6L381.4,408.1L378.2,404.2L374.2,401.7L369.2,401.3L368.6,401.5L366.5,404.7L366.9,408.9L365.0,412.1L362.8,415.2L366.9,420.3L370.5,425.7L374.5,430.8L379.8,434.8Z" fill="#fee6ce"/>
<path d="M390.9,429.6L395.9,427.8L401.0,430.6L406.0,430.0L408.1,423.6L408.8,416.8L407.0,413.5L405.0,410.3L403.0,407.1L399.6,405.0L393.7,405.0L389.6,407.1L385.8,409.6L386.0,414.7L387.3,419.8L387.7,424.9L385.8,430.0Z" fill="#fee6ce"/>
<path d="M418.9,432.5L426.0,429.0L431.0,422.8L436.4,419.0L433.3,416.7L426.7,410.0L426.2,408.8L418.2,413.1L408.8,416.8L408.1,423.6L406.0,430.0L408.6,434.3L412.6,437.1Z" fill="#fdd0a2"/>
<path d="M435.3,424.0L438.2,429.9L436.7,435.6L436.0,441.3L439.8,445.2L445.9,446.3L449.2,450.9L453.1,454.6L457.7,454.7L462.4,455.0L467.0,440.8L466.7,440.8L464.2,426.7L451.7,424.2L440.0,421.7L437.0,419.4Z" fill="#a63603"/>
<path d="M413.6,440.7L414.6,444.3L420.2,445.5L425.4,443.5L430.4,439.9L436.0,441.3L436.7,435.6L438.2,429.9L435.3,424.0L437.0,419.4L436.4,419.0L431.0,422.8L426.0,429.0L418.9,432.5L412.6,437.1Z" fill="#fdd0a2"/>
<path d="M363.1,441.9L368.0,437.6L373.5,435.3L379.8,434.8L374.5,430.8L370.5,425.7L366.9,420.3L362.8,415.2L359.4,418.7L354.3,418.7L350.0,420.2L346.2,422.9L345.0,427.0L343.8,431.1L347.0,434.3L349.1,438.7L353.8,440.3L357.3,443.3Z" fill="#fff5eb"/>
<path d="M383.3,439.2L384.7,444.3L383.1,450.4L386.6,454.8L391.2,457.3L396.5,457.9L400.8,454.8L406.2,453.2L410.5,450.0L414.3,446.0L414.6,444.3L413.6,440.7L412.6,437.1L408.6,434.3L406.0,430.0L401.0,430.6L395.9,427.8L390.9,429.6L385.8,430.0L383.3,432.9L379.9,434.8Z" fill="#fee6ce"/>
<path d="M359.7,461.1L364.9,461.9L368.8,464.7L372.9,467.3L375.2,463.0L379.7,461.0L382.3,457.0L386.6,454.8L383.1,450.4L384.7,444.3L383.3,439.2L379.9,434.8L379.8,434.8L373.5,435.3L368.0,437.6L363.1,441.9L357.3,443.3L358.0,450.3L356.5,457.3Z" fill="#fee6ce"/>
<path d="M414.3,446.0L416.9,451.3L419.7,456.5L424.4,460.5L426.6,466.0L433.7,464.2L439.1,458.5L446.6,457.8L453.1,454.6L449.2,450.9L445.9,446.3L439.8,445.2L436.0,441.3L430.4,439.9L425.4,443.5L420.2,445.5L414.6,444.3Z" fill="#fff5eb"/>
<path d="M396.5,464.6L400.2,470.2L400.6,476.9L404.0,482.5L408.3,479.7L413.8,482.1L418.0,478.9L422.8,478.1L423.8,471.8L426.6,466.0L424.4,460.5L419.7,456.5L416.9,451.3L414.3,446.0L410.5,450.0L406.2,453.2L400.8,454.8L396.5,457.9Z" fill="#fee6ce"/>
<path d="M380.6,482.6L385.3,486.7L391.4,487.5L396.5,490.9L401.2,487.5L404.0,482.5L400.6,476.9L400.2,470.2L396.5,464.6L396.5,457.9L391.2,457.3L386.6,454.8L382.3,457.0L379.7,461.0L375.2,463.0L372.9,467.3L372.0,471.1L375.0,474.4L373.3,478.3L374.5,481.8Z" fill="#fff5eb"/>
<path d="M426.2,481.0L429.1,484.4L436.3,486.0L443.1,481.8L450.1,480.6L457.3,482.1L461.2,479.7L461.4,474.8L464.8,470.4L462.8,465.1L464.4,460.4L462.4,455.0L457.7,454.7L453.1,454.6L446.6,457.8L439.1,458.5L433.7,464.2L426.6,466.0L423.8,471.8L422.8,478.1Z" fill="#fff5eb"/>
<path d="M345.2,473.1L348.6,478.7L355.6,481.9L357.6,488.4L363.5,489.1L369.1,485.7L374.5,481.8L373.3,478.3L375.0,474.4L372.0,471.1L372.9,467.3L368.8,464.7L364.9,461.9L359.7,461.1L356.5,457.3L353.4,460.0L348.9,460.7L347.1,465.3L343.0,466.7Z" fill="#d94801"/>
<path d="M333.8,469.3L331.2,471.2L334.1,477.7L338.8,483.4L341.5,489.9L342.4,497.3L346.4,495.4L349.3,491.6L353.1,489.4L357.6,488.4L355.6,481.9L348.6,478.7L345.2,473.1L343.0,466.7L339.4,466.3L335.8,466.9Z" fill="#fd8d3c"/>
<path d="M439.6,509.6L446.0,507.5L449.6,501.5L450.0,494.1L454.2,488.3L457.3,482.1L450.1,480.6L443.1,481.8L436.3,486.0L429.1,484.4L430.4,490.7L431.7,497.0L431.3,503.5L432.8,509.8Z" fill="#fff5eb"/>
<path d="M464.4,460.4L472.0,464.4L480.4,466.3L489.1,467.3L496.8,471.2L509.7,467.3L511.5,465.9L510.0,463.3L513.3,457.5L500.0,446.7L491.7,441.7L481.7,440.0L467.0,440.8L462.4,455.0Z" fill="#fdae6b"/>
<path d="M462.8,465.1L464.8,470.4L461.4,474.8L461.2,479.7L466.1,483.7L470.2,488.6L474.7,493.0L477.6,498.9L483.9,496.3L490.3,493.9L490.5,487.8L493.3,482.4L496.1,477.1L496.8,471.2L489.1,467.3L480.4,466.3L472.0,464.4L464.4,460.4Z" fill="#fdae6b"/>
<path d="M493.9,498.1L500.2,497.0L504.5,499.6L508.5,503.0L518.3,489.8L520.4,485.1L520.0,485.0L513.3,480.0L510.0,475.0L515.8,473.3L511.5,465.9L509.7,467.3L496.8,471.2L496.1,477.1L493.3,482.4L490.5,487.8L490.3,493.9Z" fill="#fee6ce"/>
<path d="M514.8,522.0L515.0,521.7L516.7,513.3L525.0,515.8L530.0,511.7L533.3,506.7L538.3,491.7L528.3,493.3L526.7,486.7L520.4,485.1L518.3,489.8L508.5,503.0Z" fill="#fdae6b"/>
<path d="M474.2,526.7L475.4,530.6L478.3,528.3L490.0,528.3L498.3,530.0L506.7,533.3L514.8,522.0L508.5,503.0L504.5,499.6L500.2,497.0L493.9,498.1L490.3,493.9L483.9,496.3L477.6,498.9L475.1,503.7L476.7,509.7L474.8,514.7L471.7,519.3Z" fill="#fff5eb"/>
<path d="M452.7,510.0L458.4,514.5L465.1,516.7L471.7,519.3L474.8,514.7L476.7,509.7L475.1,503.7L477.6,498.9L474.7,493.0L470.2,488.6L466.1,483.7L461.2,479.7L457.3,482.1L454.2,488.3L450.0,494.1L449.6,501.5L446.0,507.5Z" fill="#fff5eb"/>
<path d="M369.1,485.7L363.5,489.1L365.0,498.4L365.8,507.9L369.7,516.8L369.4,526.4L369.6,526.5L375.5,525.1L381.5,524.7L383.8,518.0L387.7,512.4L393.9,508.4L397.3,502.4L396.9,496.6L396.5,490.9L391.4,487.5L385.3,486.7L380.6,482.6L374.5,481.8Z" fill="#f16913"/>
<path d="M396.9,496.6L397.3,502.4L405.2,505.1L412.4,509.4L420.0,512.6L427.5,516.3L430.0,512.9L432.8,509.8L431.3,503.5L431.7,497.0L430.4,490.7L429.1,484.4L426.2,481.0L422.8,478.1L418.0,478.9L413.8,482.1L408.3,479.7L404.0,482.5L401.2,487.5L396.5,490.9Z" fill="#fdd0a2"/>
<path d="M411.6,534.4L416.0,533.8L420.6,533.8L423.9,530.4L425.7,527.8L427.5,525.2L426.8,520.7L427.5,516.3L420.0,512.6L412.4,509.4L405.2,505.1L397.3,502.4L393.9,508.4L387.7,512.4L383.8,518.0L381.5,524.7L383.4,528.0L386.2,530.2L390.1,531.1L392.5,533.8L396.6,532.9L400.1,535.4L403.9,536.3L407.8,536.5Z" fill="#fd8d3c"/>
<path d="M426.8,520.7L427.5,525.2L440.2,531.7L453.7,536.8L465.6,545.0L468.4,545.9L470.0,535.0L475.4,530.6L474.2,526.7L471.7,519.3L465.1,516.7L458.4,514.5L452.7,510.0L446.0,507.5L439.6,509.6L432.8,509.8L430.0,512.9L427.5,516.3Z" fill="#fff5eb"/>
<path d="M424.6,536.0L426.5,541.4L425.7,547.3L429.0,552.3L439.6,563.9L443.3,565.0L460.8,566.7L463.3,553.3L468.3,546.7L468.4,545.9L465.6,545.0L453.7,536.8L440.2,531.7L427.5,525.2L425.7,527.8L423.9,530.4Z" fill="#fee6ce"/>
<path d="M353.1,489.4L349.3,491.6L346.4,495.4L342.4,497.3L340.7,499.9L343.3,503.9L344.7,508.3L343.5,513.3L345.4,517.5L347.8,521.9L351.8,524.9L355.3,525.9L358.8,526.6L362.3,526.8L365.9,526.4L369.4,526.4L369.7,516.8L365.8,507.9L365.0,498.4L363.5,489.1L357.6,488.4Z" fill="#fdae6b"/>
<path d="M329.9,437.2L333.9,433.2L338.5,431.3L343.8,431.1L345.0,427.0L346.2,422.9L342.9,418.0L341.5,412.3L336.7,410.1L332.8,406.8L330.4,401.7L325.8,399.3L324.2,404.8L318.8,407.5L315.0,411.4L312.7,416.3L313.2,422.7L314.7,429.0L317.0,433.0L319.7,436.9L324.9,438.2Z" fill="#fdae6b"/>
<path d="M339.4,466.3L343.0,466.7L347.1,465.3L348.9,460.7L353.4,460.0L356.5,457.3L358.0,450.3L357.3,443.3L353.8,440.3L349.1,438.7L347.0,434.3L343.8,431.1L338.5,431.3L333.9,433.2L329.9,437.2L324.9,438.2L326.0,446.0L328.4,453.3L334.7,459.1L335.8,466.9Z" fill="#fdae6b"/>
<path d="M264.7,432.4L265.6,428.7L267.4,425.5L269.2,422.4L266.8,419.2L265.3,415.3L260.2,414.4L258.8,410.3L256.5,414.2L253.6,417.6L256.6,421.7L256.0,427.0L258.1,431.3L259.8,435.8L262.6,435.5Z" fill="#a63603"/>
<path d="M286.3,436.0L287.5,431.9L285.1,426.0L283.0,420.1L276.0,420.5L269.2,422.4L267.4,425.5L265.6,428.7L264.7,432.4L262.6,435.5L265.4,439.4L270.4,440.6L274.5,442.8L277.0,447.0L281.3,443.8L285.2,440.1Z" fill="#a63603"/>
<path d="M313.2,422.7L312.7,416.3L309.3,413.2L305.0,412.2L300.1,412.6L296.7,409.5L290.6,410.6L285.7,414.2L284.2,417.1L283.0,420.1L285.1,426.0L287.5,431.9L294.5,432.8L301.1,430.1L307.9,430.1L314.7,429.0Z" fill="#a63603"/>
<path d="M311.6,448.8L314.5,445.0L317.0,440.8L319.7,436.9L317.0,433.0L314.7,429.0L307.9,430.1L301.1,430.1L294.5,432.8L287.5,431.9L286.3,436.0L285.2,440.1L290.2,443.6L296.2,445.0L301.5,448.0L306.8,450.9Z" fill="#fd8d3c"/>
<path d="M170.5,362.6L172.2,357.6L171.1,355.3L167.7,353.2L163.9,352.6L159.7,353.3L156.3,351.3L155.7,355.1L154.7,358.9L155.1,362.8L155.9,366.6L161.7,368.2L167.6,367.0Z" fill="#a63603"/>
</g>
<path d="M86.7,126.7L93.3,134.2L98.3,130.8L104.2,140.8L109.2,142.5L111.7,154.2L120.0,153.3L121.7,150.0L127.5,151.7L131.7,153.3L132.5,157.5L140.0,163.3L147.5,157.5L155.0,168.3L150.8,171.7L152.5,181.7L156.7,184.2L160.0,182.5L168.3,178.3L180.0,179.2L179.2,189.2L175.8,190.0L185.0,190.0L193.3,186.7L195.8,190.0L196.7,198.3L194.2,203.3L195.0,213.3L193.3,216.7L195.8,223.3L192.5,229.2L195.8,233.3L196.7,240.0L200.0,245.0L208.3,244.2L211.7,240.8L217.5,238.3L230.0,243.3L235.0,245.0L238.3,244.2L245.0,246.7L246.7,242.5L260.0,237.5L265.0,235.0L270.0,233.3L280.0,234.0L289.2,233.0L306.7,233.7L305.0,223.7L296.7,220.8L295.8,216.7L293.3,210.8L313.3,209.2L315.0,215.8L319.2,219.2L325.0,218.7L330.0,222.5L340.8,225.0L342.5,233.3L345.0,237.5L346.7,250.0L348.3,258.3L353.3,270.0L360.0,275.0L370.0,280.0L368.3,282.5L376.7,285.0L380.0,288.3L378.3,293.3L385.0,295.8L386.7,305.0L388.3,313.3L393.3,321.7L403.3,333.3L420.0,343.3L422.5,353.3L429.2,361.7L424.2,370.8L425.8,383.3L421.7,396.7L426.7,410.0L433.3,416.7L440.0,421.7L451.7,424.2L464.2,426.7L466.7,440.8L481.7,440.0L491.7,441.7L500.0,446.7L513.3,457.5L510.0,463.3L515.8,473.3L510.0,475.0L513.3,480.0L520.0,485.0L526.7,486.7L528.3,493.3L538.3,491.7L533.3,506.7L530.0,511.7L525.0,515.8L516.7,513.3L515.0,521.7L506.7,533.3L498.3,530.0L490.0,528.3L478.3,528.3L470.0,535.0L468.3,546.7L463.3,553.3L460.8,566.7L443.3,565.0L435.0,562.5L418.3,566.7L406.7,576.7L403.3,586.7L400.0,593.3L390.0,595.0L381.7,598.3L382.5,606.7L393.3,615.0L395.8,620.0L396.7,631.7L399.2,636.7L391.7,641.7L376.7,640.0L361.7,640.0L350.8,636.7L346.7,643.3L338.3,648.3L340.0,656.7L330.0,658.3L319.8,660.8L310.0,661.7L305.8,669.2L296.7,665.0L283.3,661.7L276.7,650.0L270.0,645.0L266.7,640.0L257.5,642.5L256.7,650.0L249.2,655.0L250.0,661.7L259.2,664.2L261.7,673.3L248.3,680.0L235.8,680.8L232.5,674.2L211.7,673.3L198.3,673.3L190.0,676.7L180.0,670.0L170.0,664.2L153.3,657.5L152.5,650.0L156.7,641.7L160.8,635.0L160.0,629.2L150.8,631.7L145.0,630.0L139.2,627.5L135.0,618.3L128.3,614.2L121.7,611.7L125.0,593.3L132.5,586.7L129.2,574.2L141.7,570.0L143.3,566.7L139.2,555.0L145.0,543.3L140.0,536.7L130.0,534.2L120.0,538.3L115.0,550.0L108.3,555.0L85.8,544.2L89.2,535.0L85.0,529.2L90.0,520.0L75.8,513.3L71.7,505.0L73.3,486.7L73.3,473.3L63.3,471.7L67.5,446.7L80.8,443.3L77.5,433.3L77.5,423.3L90.8,413.3L90.0,403.3L80.0,404.2L76.7,401.7L77.5,390.0L71.7,393.3L55.8,398.3L55.0,395.0L64.2,380.8L66.7,375.8L75.8,370.0L73.3,365.0L80.8,351.7L88.3,346.7L88.3,340.0L75.8,333.3L71.7,323.3L73.3,313.3L79.2,310.0L80.0,304.2L71.7,303.3L63.3,300.0L62.5,296.7L70.0,291.7L78.3,289.2L85.0,293.3L88.3,290.0L90.0,283.3L78.3,278.3L67.5,274.2L75.8,258.3L74.2,245.0L69.2,241.7L63.3,230.0L63.3,220.0L60.0,215.8L47.5,220.0L46.7,210.0L45.0,206.7L47.5,200.0L45.8,193.3L42.5,183.3L41.7,171.7L45.0,165.0L49.2,163.3L54.2,167.5L65.0,166.7L67.5,161.7L65.0,155.8L69.2,152.5L67.5,150.8L70.8,140.8L75.8,135.0Z" fill="none" stroke="#2a2a2a" stroke-width="1"/>
<g transform="translate(80,360) rotate(-13.3)">
<rect x="-700" y="-33" width="1600" height="236" fill="rgb(194,194,194)" fill-opacity="0.17"/>
<rect x="0" y="0" width="530" height="180" fill="none" stroke="rgb(194,194,194)" stroke-opacity="0.2" stroke-width="5"/>
<circle cx="91" cy="86" r="53" fill="none" stroke="rgb(60,60,60)" stroke-opacity="0.1" stroke-width="12"/>
<text x="267.5 308 324.5 365.5 414.5 457.5" y="65" font-family="Liberation Sans, sans-serif" font-size="53" fill="rgb(110,110,110)" fill-opacity="0.08">VIENNE</text>
<text x="198.5 239.5 284.5 319 334.5 369 386.5 433 472.5" y="130" font-family="Liberation Sans, sans-serif" font-weight="bold" font-size="57" fill="rgb(110,110,110)" fill-opacity="0.135">POLITIQUE</text>
</g>
</svg>
</body></html>
